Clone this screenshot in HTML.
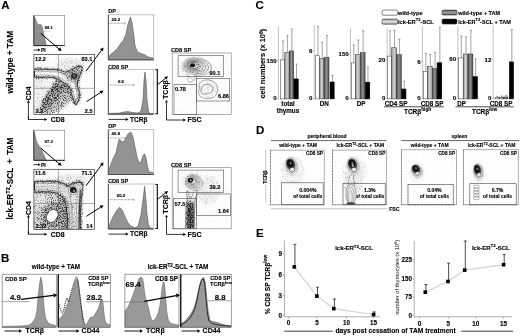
<!DOCTYPE html>
<html><head><meta charset="utf-8"><style>
html,body{margin:0;padding:0;background:#fff;}
svg{display:block;will-change:transform;}
text{font-family:"Liberation Sans", sans-serif;stroke:#000;stroke-width:0.12px;}
</style></head><body>
<svg width="520" height="336" viewBox="0 0 520 336">
<defs>

<filter id="stip" x="0" y="0" width="1" height="1" color-interpolation-filters="sRGB">
<feGaussianBlur in="SourceGraphic" stdDeviation="1.0" result="d"/>
<feTurbulence type="fractalNoise" baseFrequency="0.8" numOctaves="2" seed="7" result="n0"/>
<feColorMatrix in="n0" type="matrix" values="3.4 0 0 0 -1.2  3.4 0 0 0 -1.2  3.4 0 0 0 -1.2  0 0 0 0 1" result="n"/>
<feComposite in="d" in2="n" operator="arithmetic" k1="0" k2="4" k3="-4" k4="1" result="c"/>
<feComposite in="c" in2="d" operator="arithmetic" k1="0" k2="0.42" k3="0.58" k4="0" result="m"/>
<feGaussianBlur in="m" stdDeviation="0.55"/>
</filter>

</defs>
<rect width="520" height="336" fill="#fff"/>
<text x="1.2" y="9.2" font-size="11.5" font-weight="bold" text-anchor="start" fill="#000" >A</text>
<text x="0.9" y="261.7" font-size="11.5" font-weight="bold" text-anchor="start" fill="#000" >B</text>
<text x="255.6" y="9.2" font-size="11.5" font-weight="bold" text-anchor="start" fill="#000" >C</text>
<text x="256" y="133.7" font-size="11.5" font-weight="bold" text-anchor="start" fill="#000" >D</text>
<text x="256" y="236.8" font-size="11.5" font-weight="bold" text-anchor="start" fill="#000" >E</text>
<text x="0" y="0" font-size="8.3" font-weight="bold" stroke="#000" stroke-width="0.2" word-spacing="0" text-anchor="middle" transform="translate(12.6 62.2) rotate(-90)">wild-type + TAM</text>
<path d="M33.80,16.00 C34.00,16.27 34.60,16.83 35.00,17.60 C35.40,18.37 35.82,19.60 36.20,20.60 C36.58,21.60 36.83,22.95 37.30,23.60 C37.77,24.25 38.35,24.33 39.00,24.50 C39.65,24.67 40.65,24.18 41.20,24.60 C41.75,25.02 41.97,25.93 42.30,27.00 C42.63,28.07 42.87,29.50 43.20,31.00 C43.53,32.50 43.93,34.33 44.30,36.00 C44.67,37.67 45.05,39.40 45.40,41.00 C45.75,42.60 46.23,44.83 46.40,45.60 L33.8,45.6 Z" fill="#8e8e8e" stroke="#555" stroke-width="0.4" />
<rect x="33.8" y="15.5" width="30.900000000000006" height="30.1" fill="none" stroke="#777" stroke-width="0.6" />
<line x1="33.8" y1="45.6" x2="64.7" y2="45.6" stroke="#222" stroke-width="1.0" />
<line x1="33.8" y1="15.5" x2="33.8" y2="45.6" stroke="#333" stroke-width="0.8" />
<line x1="36.5" y1="31.2" x2="51" y2="31.2" stroke="#aaa" stroke-width="0.5" />
<text x="44.6" y="28.7" font-size="4.2" font-weight="bold" text-anchor="start" fill="#000" stroke="#000" stroke-width="0.15">98.1</text>
<line x1="40.6" y1="33.3" x2="58.9300779814898" y2="48.83692324145326" stroke="#000" stroke-width="1.0" />
<path d="M61.60,51.10 L57.69,50.31 L60.17,47.37 Z" fill="#000"/>
<line x1="33.5" y1="50.0" x2="38.0" y2="50.0" stroke="#000" stroke-width="0.8" />
<path d="M40.50,50.00 L38.00,51.38 L38.00,48.62 Z" fill="#000"/>
<text x="41" y="51.8" font-size="5" font-weight="bold" text-anchor="start" fill="#000" >PI</text>
<clipPath id="clipA0"><rect x="33.9" y="54.6" width="60.699999999999996" height="59.99999999999999"/></clipPath>
<g clip-path="url(#clipA0)">
<g filter="url(#stip)">
<rect x="33.9" y="54.6" width="60.699999999999996" height="59.99999999999999" fill="#f9f9f9"/>
<ellipse cx="70" cy="64" rx="14" ry="6" fill="#e4e4e4"/>
<rect x="33" y="79" width="14" height="36" fill="#e6e6e6"/>
<path d="M56,79 L66,82 L71,90 L72,100 L58,112 L46,116 L38,114 L40,104 L48,92 Z" fill="#a4a4a4"/>
<path d="M55,82 L64,85 L62,93 L52,105 L45,111 L41,107 L46,94 Z" fill="#686868"/>
<ellipse cx="66" cy="88" rx="3" ry="5" fill="#6a6a6a"/>
<path d="M31.00,69.80 C33.72,68.57 42.68,69.37 47.30,69.40 C51.92,69.43 55.67,69.57 58.70,70.00 C61.73,70.43 63.35,72.10 65.50,72.00 C67.65,71.90 69.85,70.17 71.60,69.40 C73.35,68.63 74.72,67.93 76.00,67.40 C77.28,66.87 78.30,66.23 79.30,66.20 C80.30,66.17 81.75,66.11 82.00,67.20 C82.25,68.29 81.43,70.62 80.80,72.75 C80.17,74.88 78.80,78.09 78.20,80.00 C77.60,81.91 77.02,82.12 77.20,84.20 C77.38,86.28 79.04,89.90 79.30,92.50 C79.56,95.10 79.18,97.98 78.75,99.80 C78.32,101.62 77.23,102.62 76.70,103.40 C76.17,104.18 75.95,104.58 75.60,104.50 C75.25,104.42 75.20,104.38 74.60,102.90 C74.00,101.42 72.87,98.20 72.00,95.60 C71.13,93.00 70.90,89.48 69.40,87.30 C67.90,85.12 64.90,83.88 63.00,82.50 C61.10,81.12 60.17,79.88 58.00,79.00 C55.83,78.12 54.50,77.57 50.00,77.20 C45.50,76.83 34.17,78.03 31.00,76.80 C27.83,75.57 28.28,71.03 31.00,69.80 Z" fill="#f4f4f4" stroke="#666" stroke-width="2.2"/>
<path d="M31.00,72.00 C33.67,71.47 42.50,71.57 47.00,71.60 C51.50,71.63 55.00,71.73 58.00,72.20 C61.00,72.67 62.83,74.43 65.00,74.40 C67.17,74.37 69.17,72.77 71.00,72.00 C72.83,71.23 74.63,70.35 76.00,69.80 C77.37,69.25 78.58,68.67 79.20,68.70 C79.82,68.73 79.80,69.28 79.70,70.00 C79.60,70.72 79.25,71.42 78.60,73.00 C77.95,74.58 76.43,77.67 75.80,79.50 C75.17,81.33 74.63,81.83 74.80,84.00 C74.97,86.17 76.50,90.00 76.80,92.50 C77.10,95.00 76.80,97.48 76.60,99.00 C76.40,100.52 76.00,102.10 75.60,101.60 C75.20,101.10 74.87,98.35 74.20,96.00 C73.53,93.65 72.97,89.83 71.60,87.50 C70.23,85.17 68.02,83.67 66.00,82.00 C63.98,80.33 62.17,78.63 59.50,77.50 C56.83,76.37 54.75,75.65 50.00,75.20 C45.25,74.75 34.17,75.33 31.00,74.80 C27.83,74.27 28.33,72.53 31.00,72.00 Z" fill="#f6f6f6" stroke="none"/>
<rect x="81" y="74" width="16" height="42" fill="#fdfdfd"/>
<path d="M62,72 L70,70.5 L78,68 L80.5,68.5 L79.5,73 L76.5,79 L75.5,83 L70,84 L64,78 Z" fill="#c4c4c4"/>
<ellipse cx="74" cy="75.8" rx="6" ry="5" fill="#999"/>
</g>
<path d="M31.00,69.80 C33.72,68.57 42.68,69.37 47.30,69.40 C51.92,69.43 55.67,69.57 58.70,70.00 C61.73,70.43 63.35,72.10 65.50,72.00 C67.65,71.90 69.85,70.17 71.60,69.40 C73.35,68.63 74.72,67.93 76.00,67.40 C77.28,66.87 78.30,66.23 79.30,66.20 C80.30,66.17 81.75,66.11 82.00,67.20 C82.25,68.29 81.43,70.62 80.80,72.75 C80.17,74.88 78.80,78.09 78.20,80.00 C77.60,81.91 77.02,82.12 77.20,84.20 C77.38,86.28 79.04,89.90 79.30,92.50 C79.56,95.10 79.18,97.98 78.75,99.80 C78.32,101.62 77.23,102.62 76.70,103.40 C76.17,104.18 75.95,104.58 75.60,104.50 C75.25,104.42 75.20,104.38 74.60,102.90 C74.00,101.42 72.87,98.20 72.00,95.60 C71.13,93.00 70.90,89.48 69.40,87.30 C67.90,85.12 64.90,83.88 63.00,82.50 C61.10,81.12 60.17,79.88 58.00,79.00 C55.83,78.12 54.50,77.57 50.00,77.20 C45.50,76.83 34.17,78.03 31.00,76.80 C27.83,75.57 28.28,71.03 31.00,69.80 Z" fill="none" stroke="#222" stroke-width="0.8"/>
<path d="M31.00,72.00 C33.67,71.47 42.50,71.57 47.00,71.60 C51.50,71.63 55.00,71.73 58.00,72.20 C61.00,72.67 62.83,74.43 65.00,74.40 C67.17,74.37 69.17,72.77 71.00,72.00 C72.83,71.23 74.63,70.35 76.00,69.80 C77.37,69.25 78.58,68.67 79.20,68.70 C79.82,68.73 79.80,69.28 79.70,70.00 C79.60,70.72 79.25,71.42 78.60,73.00 C77.95,74.58 76.43,77.67 75.80,79.50 C75.17,81.33 74.63,81.83 74.80,84.00 C74.97,86.17 76.50,90.00 76.80,92.50 C77.10,95.00 76.80,97.48 76.60,99.00 C76.40,100.52 76.00,102.10 75.60,101.60 C75.20,101.10 74.87,98.35 74.20,96.00 C73.53,93.65 72.97,89.83 71.60,87.50 C70.23,85.17 68.02,83.67 66.00,82.00 C63.98,80.33 62.17,78.63 59.50,77.50 C56.83,76.37 54.75,75.65 50.00,75.20 C45.25,74.75 34.17,75.33 31.00,74.80 C27.83,74.27 28.33,72.53 31.00,72.00 Z" fill="none" stroke="#777" stroke-width="0.45"/>
<path d="M64,73.5 Q70,71.5 76,69.8 Q79.5,69 79,72 Q77.5,77 75.5,80 Q74,83 72,82 Q68,79 64,73.5 Z" fill="none" stroke="#666" stroke-width="0.45"/>
<ellipse cx="74.1" cy="75.8" rx="4.6" ry="3.9" fill="none" stroke="#444" stroke-width="0.5"/>
<ellipse cx="74.1" cy="75.9" rx="3.0" ry="2.5" fill="#333" stroke="#111" stroke-width="0.4"/>
<ellipse cx="74.4" cy="75.9" rx="1.0" ry="0.8" fill="#888"/>
<path d="M33.9,70.8 L33.9,76.5" stroke="#111" stroke-width="2"/>
<circle cx="51.6" cy="97.6" r="0.9" fill="#fff"/><circle cx="50.2" cy="101.2" r="0.8" fill="#fff"/>
</g>
<rect x="33.9" y="54.6" width="60.699999999999996" height="59.99999999999999" fill="none" stroke="#333" stroke-width="0.7" />
<line x1="58.5" y1="54.6" x2="58.5" y2="114.6" stroke="#666" stroke-width="0.5" />
<line x1="33.9" y1="88.30000000000001" x2="94.6" y2="88.30000000000001" stroke="#666" stroke-width="0.5" />
<text x="35.1" y="60.5" font-size="5.6" font-weight="bold" text-anchor="start" fill="#000" >12.2</text>
<text x="92.4" y="60.5" font-size="5.6" font-weight="bold" text-anchor="end" fill="#000" >83.1</text>
<text x="35.4" y="112.89999999999999" font-size="5.6" font-weight="bold" text-anchor="start" fill="#000" >2.2</text>
<text x="92.6" y="113.1" font-size="5.6" font-weight="bold" text-anchor="end" fill="#000" >2.5</text>
<line x1="28.4" y1="116.6" x2="28.4" y2="119.5" stroke="#000" stroke-width="0.8" />
<line x1="28.4" y1="119.5" x2="28.4" y2="102.69999999999999" stroke="#000" stroke-width="0.8" />
<path d="M28.40,100.10 L29.83,102.70 L26.97,102.70 Z" fill="#000"/>
<line x1="28.4" y1="119.5" x2="44.400000000000006" y2="119.5" stroke="#000" stroke-width="0.8" />
<path d="M47.20,119.50 L44.40,121.04 L44.40,117.96 Z" fill="#000"/>
<text x="0" y="0" font-size="6.9" font-weight="bold" text-anchor="middle" transform="translate(30.7 93.4) rotate(-90)">CD4</text>
<text x="50.7" y="121.8" font-size="6.9" font-weight="bold" text-anchor="start" fill="#000" >CD8</text>
<line x1="86" y1="71.1" x2="101.40956848900642" y2="50.40715088619139" stroke="#000" stroke-width="1.0" />
<path d="M103.50,47.60 L102.95,51.56 L99.87,49.26 Z" fill="#000"/>
<line x1="86.5" y1="101.6" x2="100.56150444996747" y2="92.50137947355046" stroke="#000" stroke-width="1.0" />
<path d="M103.50,90.60 L101.61,94.12 L99.52,90.89 Z" fill="#000"/>
<text x="108.2" y="13.4" font-size="5.6" font-weight="bold" text-anchor="start" fill="#000" >DP</text>
<path d="M108.5,59.8 L108.5,58.0 L110.0,55.0 L114.0,51.7 L117.3,48.6 L120.4,44.0 L123.5,40.0 L125.8,34.7 L128.0,24.0 L130.4,17.0 L132.0,22.4 L133.5,33.0 L135.0,45.6 L137.4,51.7 L142.0,54.0 L144.3,54.2 L145.5,55.5 L148.0,56.8 L150.0,57.5 L153.5,58.0 L153.5,59.8 Z" fill="#939393" stroke="#555" stroke-width="0.6" />
<rect x="108.3" y="14.8" width="45.39999999999999" height="45.0" fill="none" stroke="#aaa" stroke-width="0.7" />
<line x1="108.3" y1="14.8" x2="108.3" y2="59.8" stroke="#333" stroke-width="0.8" />
<line x1="108.3" y1="59.8" x2="153.7" y2="59.8" stroke="#333" stroke-width="0.8" />
<line x1="108.3" y1="23.3" x2="125" y2="23.3" stroke="#444" stroke-width="0.6" stroke-dasharray="0.8 0.6"/>
<line x1="125" y1="22.200000000000003" x2="125" y2="24.4" stroke="#444" stroke-width="0.5" />
<text x="111.6" y="20.6" font-size="4.4" font-weight="bold" text-anchor="start" fill="#000" >29.2</text>
<text x="108.0" y="68.7" font-size="5.6" font-weight="bold" text-anchor="start" fill="#000" >CD8 SP</text>
<path d="M108.5,114.2 L108.5,113.5 L120.0,113.0 L124.0,112.0 L128.0,111.5 L132.0,112.5 L138.0,113.0 L141.0,111.0 L143.0,100.0 L144.0,80.0 L145.0,72.0 L146.0,80.0 L147.0,100.0 L148.5,111.0 L150.0,113.5 L153.5,113.8 L153.5,114.2 Z" fill="#939393" stroke="#555" stroke-width="0.6" />
<rect x="108.3" y="69.3" width="45.39999999999999" height="44.900000000000006" fill="none" stroke="#aaa" stroke-width="0.7" />
<line x1="108.3" y1="69.3" x2="108.3" y2="114.2" stroke="#333" stroke-width="0.8" />
<line x1="108.3" y1="114.2" x2="153.7" y2="114.2" stroke="#333" stroke-width="0.8" />
<line x1="108.3" y1="85.0" x2="134" y2="85.0" stroke="#444" stroke-width="0.6" stroke-dasharray="0.8 0.6"/>
<line x1="134" y1="83.89999999999999" x2="134" y2="86.1" stroke="#444" stroke-width="0.5" />
<text x="121" y="82.5" font-size="4.4" font-weight="bold" text-anchor="middle" fill="#000" >8.6</text>
<line x1="108.5" y1="119.4" x2="125.7" y2="119.4" stroke="#000" stroke-width="0.8" />
<path d="M128.50,119.40 L125.70,120.94 L125.70,117.86 Z" fill="#000"/>
<text x="130" y="121.5" font-size="6.6" font-weight="bold" text-anchor="start" fill="#000" >TCR&#946;</text>
<line x1="157.3" y1="69.3" x2="157.3" y2="114.2" stroke="#000" stroke-width="1.1" />
<line x1="155" y1="69.7" x2="157.8" y2="69.7" stroke="#000" stroke-width="0.8" />
<line x1="155" y1="113.8" x2="157.8" y2="113.8" stroke="#000" stroke-width="0.8" />
<line x1="158" y1="84.3" x2="165.423132928838" y2="78.3614936569296" stroke="#000" stroke-width="1.0" />
<path d="M168.00,76.30 L166.56,79.78 L164.29,76.94 Z" fill="#000"/>
<text x="171.0" y="52.4" font-size="5.6" font-weight="bold" text-anchor="start" fill="#000" >CD8 SP</text>
<clipPath id="clipS0"><rect x="172.2" y="53.0" width="59.0" height="61.400000000000006"/></clipPath>
<g clip-path="url(#clipS0)">
<g filter="url(#stip)">
<rect x="172.2" y="53.0" width="59.0" height="61.400000000000006" fill="#fbfbfb"/>
<ellipse cx="196" cy="67" rx="16" ry="10" fill="#e0e0e0"/>
<ellipse cx="208" cy="89" rx="11" ry="9" fill="#ececec"/>
<ellipse cx="193" cy="65.5" rx="7" ry="5" fill="#c8c8c8"/>
</g>
<path d="M183.12,65.15 C183.46,63.36 184.70,60.78 186.50,59.56 C188.30,58.34 191.23,57.91 193.93,57.84 C196.62,57.77 200.11,58.20 202.70,59.13 C205.29,60.06 207.99,61.78 209.45,63.43 C210.91,65.08 211.81,67.30 211.47,69.02 C211.14,70.74 209.45,72.75 207.43,73.75 C205.40,74.75 202.14,75.11 199.32,75.04 C196.51,74.97 193.03,74.11 190.55,73.32 C188.08,72.53 185.71,71.67 184.47,70.31 C183.24,68.95 182.79,66.94 183.12,65.15 Z" fill="none" stroke="#777" stroke-width="0.5"/>
<path d="M184.49,65.09 C184.78,63.57 185.82,61.38 187.34,60.35 C188.86,59.31 191.33,58.95 193.61,58.89 C195.89,58.83 198.84,59.19 201.02,59.98 C203.21,60.77 205.49,62.23 206.72,63.63 C207.96,65.03 208.72,66.92 208.43,68.38 C208.15,69.84 206.72,71.54 205.01,72.39 C203.30,73.24 200.55,73.55 198.17,73.49 C195.80,73.43 192.85,72.70 190.76,72.03 C188.67,71.36 186.68,70.63 185.63,69.47 C184.59,68.32 184.21,66.61 184.49,65.09 Z" fill="none" stroke="#666" stroke-width="0.5"/>
<path d="M185.79,65.03 C186.02,63.76 186.89,61.93 188.14,61.07 C189.39,60.20 191.43,59.90 193.31,59.85 C195.19,59.80 197.62,60.10 199.42,60.76 C201.22,61.42 203.10,62.64 204.12,63.81 C205.14,64.98 205.76,66.56 205.53,67.78 C205.30,69.00 204.12,70.42 202.71,71.13 C201.30,71.84 199.03,72.10 197.07,72.05 C195.11,72.00 192.68,71.39 190.96,70.83 C189.24,70.27 187.59,69.66 186.73,68.69 C185.87,67.73 185.56,66.30 185.79,65.03 Z" fill="none" stroke="#555" stroke-width="0.5"/>
<path d="M186.96,64.98 C187.15,63.94 187.85,62.44 188.86,61.73 C189.87,61.02 191.52,60.77 193.04,60.73 C194.56,60.69 196.52,60.94 197.98,61.48 C199.44,62.02 200.96,63.02 201.78,63.98 C202.60,64.94 203.11,66.23 202.92,67.23 C202.73,68.23 201.78,69.40 200.64,69.98 C199.50,70.57 197.66,70.77 196.08,70.73 C194.50,70.69 192.53,70.19 191.14,69.73 C189.75,69.27 188.42,68.77 187.72,67.98 C187.02,67.19 186.77,66.02 186.96,64.98 Z" fill="none" stroke="#444" stroke-width="0.5"/>
<path d="M188.00,64.94 C188.15,64.11 188.70,62.91 189.50,62.34 C190.30,61.77 191.60,61.57 192.80,61.54 C194.00,61.51 195.55,61.71 196.70,62.14 C197.85,62.57 199.05,63.37 199.70,64.14 C200.35,64.91 200.75,65.94 200.60,66.74 C200.45,67.54 199.70,68.47 198.80,68.94 C197.90,69.41 196.45,69.57 195.20,69.54 C193.95,69.51 192.40,69.11 191.30,68.74 C190.20,68.37 189.15,67.97 188.60,67.34 C188.05,66.71 187.85,65.77 188.00,64.94 Z" fill="none" stroke="#333" stroke-width="0.5"/>
<path d="M188.98,64.89 C189.09,64.25 189.50,63.32 190.10,62.88 C190.70,62.44 191.68,62.29 192.58,62.26 C193.48,62.23 194.64,62.39 195.50,62.73 C196.36,63.06 197.26,63.68 197.75,64.28 C198.24,64.87 198.54,65.67 198.43,66.29 C198.31,66.91 197.75,67.63 197.08,68.00 C196.40,68.36 195.31,68.49 194.38,68.46 C193.44,68.43 192.28,68.12 191.45,67.84 C190.62,67.56 189.84,67.25 189.43,66.75 C189.01,66.26 188.86,65.54 188.98,64.89 Z" fill="none" stroke="#222" stroke-width="0.5"/>
<ellipse cx="192.6" cy="65.2" rx="2.6" ry="2.0" fill="#111"/>
<path d="M186.00,74.50 C186.42,74.83 188.25,75.58 188.50,76.50 C188.75,77.42 187.33,79.05 187.50,80.00 C187.67,80.95 188.58,82.03 189.50,82.20 C190.42,82.37 191.83,81.70 193.00,81.00 C194.17,80.30 195.83,78.92 196.50,78.00 C197.17,77.08 196.92,75.92 197.00,75.50" fill="none" stroke="#666" stroke-width="0.5"/>
<path d="M189.00,75.50 C189.25,75.92 189.92,77.33 190.50,78.00 C191.08,78.67 191.83,79.58 192.50,79.50 C193.17,79.42 194.08,78.25 194.50,77.50 C194.92,76.75 194.92,75.42 195.00,75.00" fill="none" stroke="#777" stroke-width="0.45"/>
<path d="M199.00,84.00 C199.58,82.75 201.33,81.17 203.00,80.50 C204.67,79.83 207.17,79.75 209.00,80.00 C210.83,80.25 212.67,81.00 214.00,82.00 C215.33,83.00 216.42,84.50 217.00,86.00 C217.58,87.50 217.67,89.50 217.50,91.00 C217.33,92.50 216.92,93.83 216.00,95.00 C215.08,96.17 213.67,97.42 212.00,98.00 C210.33,98.58 207.92,98.75 206.00,98.50 C204.08,98.25 201.75,97.58 200.50,96.50 C199.25,95.42 198.67,93.42 198.50,92.00 C198.33,90.58 199.42,89.33 199.50,88.00 C199.58,86.67 198.42,85.25 199.00,84.00 Z" fill="none" stroke="#555" stroke-width="0.5"/>
<path d="M201.50,88.00 C202.00,86.92 202.75,85.58 204.00,85.00 C205.25,84.42 207.58,84.17 209.00,84.50 C210.42,84.83 211.92,85.92 212.50,87.00 C213.08,88.08 213.17,89.92 212.50,91.00 C211.83,92.08 210.08,93.00 208.50,93.50 C206.92,94.00 204.25,94.33 203.00,94.00 C201.75,93.67 201.25,92.50 201.00,91.50 C200.75,90.50 201.00,89.08 201.50,88.00 Z" fill="none" stroke="#444" stroke-width="0.5"/>
</g>
<rect x="172.2" y="53.0" width="59.0" height="61.400000000000006" fill="none" stroke="#777" stroke-width="0.6" />
<rect x="178.1" y="55.7" width="45.599999999999994" height="20.599999999999994" fill="none" stroke="#555" stroke-width="0.6" />
<rect x="174" y="84.4" width="22.69999999999999" height="30.0" fill="none" stroke="#555" stroke-width="0.6" />
<rect x="196.5" y="78.4" width="33.19999999999999" height="22.599999999999994" fill="none" stroke="#555" stroke-width="0.6" />
<text x="209.4" y="75.4" font-size="5.6" font-weight="bold" text-anchor="start" fill="#000" >90.1</text>
<text x="175" y="90.6" font-size="5.6" font-weight="bold" text-anchor="start" fill="#000" >0.78</text>
<text x="218.1" y="98.1" font-size="5.6" font-weight="bold" text-anchor="start" fill="#000" >6.86</text>
<line x1="166.5" y1="120.0" x2="166.5" y2="102.6" stroke="#000" stroke-width="0.8" />
<path d="M166.50,100.00 L167.93,102.60 L165.07,102.60 Z" fill="#000"/>
<line x1="166.5" y1="120.0" x2="183.2" y2="120.0" stroke="#000" stroke-width="0.8" />
<path d="M186.00,120.00 L183.20,121.54 L183.20,118.46 Z" fill="#000"/>
<text x="0" y="0" font-size="7" font-weight="bold" text-anchor="middle" transform="translate(168.2 89.6) rotate(-90)">TCR&#946;</text>
<text x="187.6" y="122.10000000000001" font-size="7.0" font-weight="bold" text-anchor="start" fill="#000" >FSC</text>
<text x="0" y="0" font-size="8.3" font-weight="bold" stroke="#000" stroke-width="0.2" word-spacing="1.8" text-anchor="middle" transform="translate(12.6 178.5) rotate(-90)">lck-ER<tspan font-size="5.6" dy="-2.8">T2</tspan><tspan dy="2.8">-SCL + TAM</tspan></text>
<path d="M33.80,131.00 C33.97,131.42 34.50,132.50 34.80,133.50 C35.10,134.50 35.33,135.83 35.60,137.00 C35.87,138.17 36.07,139.42 36.40,140.50 C36.73,141.58 37.13,142.58 37.60,143.50 C38.07,144.42 38.67,145.17 39.20,146.00 C39.73,146.83 40.27,147.58 40.80,148.50 C41.33,149.42 41.87,150.42 42.40,151.50 C42.93,152.58 43.48,153.83 44.00,155.00 C44.52,156.17 45.08,157.60 45.50,158.50 C45.92,159.40 46.33,160.08 46.50,160.40 L33.8,160.3 Z" fill="#8e8e8e" stroke="#555" stroke-width="0.4" />
<rect x="33.8" y="130.2" width="30.900000000000006" height="30.100000000000023" fill="none" stroke="#777" stroke-width="0.6" />
<line x1="33.8" y1="160.3" x2="64.7" y2="160.3" stroke="#222" stroke-width="1.0" />
<line x1="33.8" y1="130.2" x2="33.8" y2="160.3" stroke="#333" stroke-width="0.8" />
<line x1="36.5" y1="145.89999999999998" x2="51" y2="145.89999999999998" stroke="#aaa" stroke-width="0.5" />
<text x="44.6" y="143.39999999999998" font-size="4.2" font-weight="bold" text-anchor="start" fill="#000" stroke="#000" stroke-width="0.15">97.3</text>
<line x1="40.6" y1="148.0" x2="58.9300779814898" y2="163.53692324145325" stroke="#000" stroke-width="1.0" />
<path d="M61.60,165.80 L57.69,165.01 L60.17,162.07 Z" fill="#000"/>
<line x1="33.5" y1="164.7" x2="38.0" y2="164.7" stroke="#000" stroke-width="0.8" />
<path d="M40.50,164.70 L38.00,166.07 L38.00,163.32 Z" fill="#000"/>
<text x="41" y="166.5" font-size="5" font-weight="bold" text-anchor="start" fill="#000" >PI</text>
<clipPath id="clipA1"><rect x="33.9" y="169.3" width="60.699999999999996" height="60.0"/></clipPath>
<g clip-path="url(#clipA1)">
<g filter="url(#stip)">
<rect x="33.9" y="169.3" width="60.699999999999996" height="60.0" fill="#f9f9f9"/>
<ellipse cx="71" cy="179" rx="15" ry="5" fill="#e2e2e2"/>
<path d="M36,192 L58,194 L66,200 L70,212 L71,232 L30,232 L30,198 Z" fill="#b6b6b6"/>
<rect x="33" y="192" width="14" height="14" fill="#d6d6d6"/>
<ellipse cx="53" cy="215" rx="11" ry="13" transform="rotate(25 53 215)" fill="#7c7c7c"/>
<path d="M58,196 L66,200 L69,214 L70,232 L60,232 L58,214 Z" fill="#7a7a7a"/>
<path d="M31.00,182.30 C33.33,180.62 41.00,181.67 45.00,181.50 C49.00,181.33 52.17,181.05 55.00,181.30 C57.83,181.55 60.00,182.30 62.00,183.00 C64.00,183.70 65.25,185.37 67.00,185.50 C68.75,185.63 70.58,184.38 72.50,183.80 C74.42,183.22 77.02,182.13 78.50,182.00 C79.98,181.87 80.67,182.30 81.40,183.00 C82.13,183.70 82.73,185.03 82.90,186.20 C83.07,187.37 82.62,188.37 82.40,190.00 C82.18,191.63 81.83,193.67 81.60,196.00 C81.37,198.33 81.17,201.00 81.00,204.00 C80.83,207.00 80.73,210.83 80.60,214.00 C80.47,217.17 80.30,220.00 80.20,223.00 C80.10,226.00 81.95,230.50 80.00,232.00 C78.05,233.50 70.57,234.00 68.50,232.00 C66.43,230.00 67.95,224.00 67.60,220.00 C67.25,216.00 66.92,211.33 66.40,208.00 C65.88,204.67 65.40,202.00 64.50,200.00 C63.60,198.00 62.58,197.20 61.00,196.00 C59.42,194.80 57.67,193.50 55.00,192.80 C52.33,192.10 49.00,192.00 45.00,191.80 C41.00,191.60 33.33,193.18 31.00,191.60 C28.67,190.02 28.67,183.98 31.00,182.30 Z" fill="#e4e4e4" stroke="#555" stroke-width="2.0"/>
<path d="M31.00,184.40 C33.33,183.40 41.00,183.75 45.00,183.60 C49.00,183.45 52.17,183.23 55.00,183.50 C57.83,183.77 60.00,184.45 62.00,185.20 C64.00,185.95 65.33,187.73 67.00,188.00 C68.67,188.27 70.17,187.30 72.00,186.80 C73.83,186.30 76.63,185.03 78.00,185.00 C79.37,184.97 79.88,185.77 80.20,186.60 C80.52,187.43 80.07,188.43 79.90,190.00 C79.73,191.57 79.40,193.67 79.20,196.00 C79.00,198.33 78.85,201.00 78.70,204.00 C78.55,207.00 78.42,210.83 78.30,214.00 C78.18,217.17 78.08,220.00 78.00,223.00 C77.92,226.00 79.03,230.50 77.80,232.00 C76.57,233.50 71.93,234.00 70.60,232.00 C69.27,230.00 70.10,224.00 69.80,220.00 C69.50,216.00 69.30,211.33 68.80,208.00 C68.30,204.67 67.85,202.25 66.80,200.00 C65.75,197.75 64.47,196.03 62.50,194.50 C60.53,192.97 57.92,191.58 55.00,190.80 C52.08,190.02 49.00,190.00 45.00,189.80 C41.00,189.60 33.33,190.50 31.00,189.60 C28.67,188.70 28.67,185.40 31.00,184.40 Z" fill="#e2e2e2" stroke="none"/>
<path d="M70.50,192.00 C71.13,191.25 72.83,191.67 74.00,191.50 C75.17,191.33 77.00,189.58 77.50,191.00 C78.00,192.42 77.17,196.50 77.00,200.00 C76.83,203.50 76.63,208.33 76.50,212.00 C76.37,215.67 76.28,218.67 76.20,222.00 C76.12,225.33 76.63,230.33 76.00,232.00 C75.37,233.67 73.07,234.33 72.40,232.00 C71.73,229.67 72.18,222.50 72.00,218.00 C71.82,213.50 71.60,208.67 71.30,205.00 C71.00,201.33 70.33,198.17 70.20,196.00 C70.07,193.83 69.87,192.75 70.50,192.00 Z" fill="#cfcfcf" stroke="none"/>
<rect x="82.5" y="186" width="15" height="46" fill="#fdfdfd"/>
</g>
<path d="M31.00,182.30 C33.33,180.62 41.00,181.67 45.00,181.50 C49.00,181.33 52.17,181.05 55.00,181.30 C57.83,181.55 60.00,182.30 62.00,183.00 C64.00,183.70 65.25,185.37 67.00,185.50 C68.75,185.63 70.58,184.38 72.50,183.80 C74.42,183.22 77.02,182.13 78.50,182.00 C79.98,181.87 80.67,182.30 81.40,183.00 C82.13,183.70 82.73,185.03 82.90,186.20 C83.07,187.37 82.62,188.37 82.40,190.00 C82.18,191.63 81.83,193.67 81.60,196.00 C81.37,198.33 81.17,201.00 81.00,204.00 C80.83,207.00 80.73,210.83 80.60,214.00 C80.47,217.17 80.30,220.00 80.20,223.00 C80.10,226.00 81.95,230.50 80.00,232.00 C78.05,233.50 70.57,234.00 68.50,232.00 C66.43,230.00 67.95,224.00 67.60,220.00 C67.25,216.00 66.92,211.33 66.40,208.00 C65.88,204.67 65.40,202.00 64.50,200.00 C63.60,198.00 62.58,197.20 61.00,196.00 C59.42,194.80 57.67,193.50 55.00,192.80 C52.33,192.10 49.00,192.00 45.00,191.80 C41.00,191.60 33.33,193.18 31.00,191.60 C28.67,190.02 28.67,183.98 31.00,182.30 Z" fill="none" stroke="#222" stroke-width="0.8"/>
<path d="M31.00,184.40 C33.33,183.40 41.00,183.75 45.00,183.60 C49.00,183.45 52.17,183.23 55.00,183.50 C57.83,183.77 60.00,184.45 62.00,185.20 C64.00,185.95 65.33,187.73 67.00,188.00 C68.67,188.27 70.17,187.30 72.00,186.80 C73.83,186.30 76.63,185.03 78.00,185.00 C79.37,184.97 79.88,185.77 80.20,186.60 C80.52,187.43 80.07,188.43 79.90,190.00 C79.73,191.57 79.40,193.67 79.20,196.00 C79.00,198.33 78.85,201.00 78.70,204.00 C78.55,207.00 78.42,210.83 78.30,214.00 C78.18,217.17 78.08,220.00 78.00,223.00 C77.92,226.00 79.03,230.50 77.80,232.00 C76.57,233.50 71.93,234.00 70.60,232.00 C69.27,230.00 70.10,224.00 69.80,220.00 C69.50,216.00 69.30,211.33 68.80,208.00 C68.30,204.67 67.85,202.25 66.80,200.00 C65.75,197.75 64.47,196.03 62.50,194.50 C60.53,192.97 57.92,191.58 55.00,190.80 C52.08,190.02 49.00,190.00 45.00,189.80 C41.00,189.60 33.33,190.50 31.00,189.60 C28.67,188.70 28.67,185.40 31.00,184.40 Z" fill="none" stroke="#666" stroke-width="0.45"/>
<path d="M70.50,192.00 C71.13,191.25 72.83,191.67 74.00,191.50 C75.17,191.33 77.00,189.58 77.50,191.00 C78.00,192.42 77.17,196.50 77.00,200.00 C76.83,203.50 76.63,208.33 76.50,212.00 C76.37,215.67 76.28,218.67 76.20,222.00 C76.12,225.33 76.63,230.33 76.00,232.00 C75.37,233.67 73.07,234.33 72.40,232.00 C71.73,229.67 72.18,222.50 72.00,218.00 C71.82,213.50 71.60,208.67 71.30,205.00 C71.00,201.33 70.33,198.17 70.20,196.00 C70.07,193.83 69.87,192.75 70.50,192.00 Z" fill="none" stroke="#777" stroke-width="0.45"/>
<path d="M31.00,186.60 C34.17,186.52 45.17,185.93 50.00,186.10 C54.83,186.27 57.33,186.78 60.00,187.60 C62.67,188.42 64.33,189.27 66.00,191.00 C67.67,192.73 69.00,194.83 70.00,198.00 C71.00,201.17 71.43,204.33 72.00,210.00 C72.57,215.67 73.17,228.33 73.40,232.00" fill="none" stroke="#888" stroke-width="0.45"/>
<path d="M31.00,188.30 C34.17,188.23 45.33,187.72 50.00,187.90 C54.67,188.08 56.58,188.55 59.00,189.40 C61.42,190.25 63.00,191.23 64.50,193.00 C66.00,194.77 67.08,196.83 68.00,200.00 C68.92,203.17 69.47,206.67 70.00,212.00 C70.53,217.33 71.00,228.67 71.20,232.00" fill="none" stroke="#999" stroke-width="0.45"/>
<path d="M80.4,190 L79.6,204 L79.2,220 L79,229" fill="none" stroke="#333" stroke-width="1.0"/>
<ellipse cx="73.2" cy="190" rx="3.4" ry="3.0" fill="#1a1a1a"/>
<ellipse cx="74" cy="191" rx="1.2" ry="1.0" fill="#999"/>
<ellipse cx="73.2" cy="190.4" rx="5.0" ry="4.2" fill="none" stroke="#666" stroke-width="0.45"/>
<rect x="47.2" y="209.2" width="10" height="13.4" rx="4.6" ry="5" transform="rotate(32 52.2 215.9)" fill="#fff" stroke="#333" stroke-width="0.7"/>
<path d="M33.9,183 L33.9,190.5" stroke="#111" stroke-width="2"/>
</g>
<rect x="33.9" y="169.3" width="60.699999999999996" height="60.0" fill="none" stroke="#333" stroke-width="0.7" />
<line x1="58.5" y1="169.3" x2="58.5" y2="229.3" stroke="#666" stroke-width="0.5" />
<line x1="33.9" y1="203.5" x2="94.6" y2="203.5" stroke="#666" stroke-width="0.5" />
<text x="35.1" y="175.20000000000002" font-size="5.6" font-weight="bold" text-anchor="start" fill="#000" >11.6</text>
<text x="92.4" y="175.20000000000002" font-size="5.6" font-weight="bold" text-anchor="end" fill="#000" >71.1</text>
<text x="35.4" y="227.60000000000002" font-size="5.6" font-weight="bold" text-anchor="start" fill="#000" >3.32</text>
<text x="92.6" y="227.8" font-size="5.6" font-weight="bold" text-anchor="end" fill="#000" >14</text>
<line x1="28.4" y1="231.3" x2="28.4" y2="234.20000000000002" stroke="#000" stroke-width="0.8" />
<line x1="28.4" y1="234.20000000000002" x2="28.4" y2="217.4" stroke="#000" stroke-width="0.8" />
<path d="M28.40,214.80 L29.83,217.40 L26.97,217.40 Z" fill="#000"/>
<line x1="28.4" y1="234.20000000000002" x2="44.400000000000006" y2="234.20000000000002" stroke="#000" stroke-width="0.8" />
<path d="M47.20,234.20 L44.40,235.74 L44.40,232.66 Z" fill="#000"/>
<text x="0" y="0" font-size="6.9" font-weight="bold" text-anchor="middle" transform="translate(30.7 208.10000000000002) rotate(-90)">CD4</text>
<text x="50.7" y="236.5" font-size="6.9" font-weight="bold" text-anchor="start" fill="#000" >CD8</text>
<line x1="86" y1="185.8" x2="101.40956848900642" y2="165.1071508861914" stroke="#000" stroke-width="1.0" />
<path d="M103.50,162.30 L102.95,166.26 L99.87,163.96 Z" fill="#000"/>
<line x1="86.5" y1="216.3" x2="100.56150444996747" y2="207.20137947355047" stroke="#000" stroke-width="1.0" />
<path d="M103.50,205.30 L101.61,208.82 L99.52,205.59 Z" fill="#000"/>
<text x="108.2" y="128.1" font-size="5.6" font-weight="bold" text-anchor="start" fill="#000" >DP</text>
<path d="M108.5,174.5 L108.5,172.7 L110.0,166.7 L113.0,158.7 L116.0,152.7 L119.0,139.2 L121.0,140.7 L123.0,142.2 L125.0,139.7 L128.0,133.7 L131.0,132.2 L133.0,136.7 L135.0,146.7 L137.0,156.7 L139.0,163.2 L141.0,161.7 L143.0,155.7 L144.5,153.7 L146.0,157.7 L147.5,166.7 L149.0,171.7 L153.5,172.7 L153.5,174.5 Z" fill="#939393" stroke="#555" stroke-width="0.6" />
<rect x="108.3" y="129.5" width="45.39999999999999" height="45.0" fill="none" stroke="#aaa" stroke-width="0.7" />
<line x1="108.3" y1="129.5" x2="108.3" y2="174.5" stroke="#333" stroke-width="0.8" />
<line x1="108.3" y1="174.5" x2="153.7" y2="174.5" stroke="#333" stroke-width="0.8" />
<line x1="108.3" y1="138.0" x2="125" y2="138.0" stroke="#444" stroke-width="0.6" stroke-dasharray="0.8 0.6"/>
<line x1="125" y1="136.9" x2="125" y2="139.1" stroke="#444" stroke-width="0.5" />
<text x="111.6" y="135.3" font-size="4.4" font-weight="bold" text-anchor="start" fill="#000" >45.8</text>
<text x="108.0" y="183.4" font-size="5.6" font-weight="bold" text-anchor="start" fill="#000" >CD8 SP</text>
<path d="M108.5,228.9 L108.5,227.7 L110.0,223.7 L113.0,216.7 L116.5,210.7 L119.5,207.2 L122.0,209.7 L125.0,216.7 L128.0,222.7 L131.0,226.2 L135.0,227.7 L138.0,226.2 L141.0,214.7 L143.0,199.7 L144.6,186.2 L146.0,199.7 L147.0,214.7 L148.5,224.7 L150.0,227.7 L153.5,228.5 L153.5,228.9 Z" fill="#939393" stroke="#555" stroke-width="0.6" />
<rect x="108.3" y="184.0" width="45.39999999999999" height="44.900000000000006" fill="none" stroke="#aaa" stroke-width="0.7" />
<line x1="108.3" y1="184.0" x2="108.3" y2="228.9" stroke="#333" stroke-width="0.8" />
<line x1="108.3" y1="228.9" x2="153.7" y2="228.9" stroke="#333" stroke-width="0.8" />
<line x1="108.3" y1="199.7" x2="134" y2="199.7" stroke="#444" stroke-width="0.6" stroke-dasharray="0.8 0.6"/>
<line x1="134" y1="198.6" x2="134" y2="200.8" stroke="#444" stroke-width="0.5" />
<text x="121" y="197.2" font-size="4.4" font-weight="bold" text-anchor="middle" fill="#000" >60.2</text>
<line x1="108.5" y1="234.1" x2="125.7" y2="234.1" stroke="#000" stroke-width="0.8" />
<path d="M128.50,234.10 L125.70,235.64 L125.70,232.56 Z" fill="#000"/>
<text x="130" y="236.20000000000002" font-size="6.6" font-weight="bold" text-anchor="start" fill="#000" >TCR&#946;</text>
<line x1="157.3" y1="184.0" x2="157.3" y2="228.9" stroke="#000" stroke-width="1.1" />
<line x1="155" y1="184.4" x2="157.8" y2="184.4" stroke="#000" stroke-width="0.8" />
<line x1="155" y1="228.5" x2="157.8" y2="228.5" stroke="#000" stroke-width="0.8" />
<line x1="158" y1="199.0" x2="165.423132928838" y2="193.0614936569296" stroke="#000" stroke-width="1.0" />
<path d="M168.00,191.00 L166.56,194.48 L164.29,191.64 Z" fill="#000"/>
<text x="171.0" y="167.1" font-size="5.6" font-weight="bold" text-anchor="start" fill="#000" >CD8 SP</text>
<clipPath id="clipS1"><rect x="172.2" y="167.7" width="59.0" height="61.10000000000002"/></clipPath>
<g clip-path="url(#clipS1)">
<g filter="url(#stip)">
<rect x="172.2" y="167.7" width="59.0" height="61.10000000000002" fill="#fbfbfb"/>
<ellipse cx="193" cy="181" rx="11" ry="9" fill="#e6e6e6"/>
<ellipse cx="208" cy="190" rx="12" ry="15" fill="#e9e9e9"/>
<rect x="186" y="191" width="9" height="40" fill="#dcdcdc"/>
<path d="M186.3,201 L193.8,201 L194,230 L186,230 Z" fill="#7a7a7a"/>
<rect x="188" y="205" width="4.2" height="25" fill="#444"/>
</g>
<path d="M185.42,181.35 C185.63,179.68 186.40,177.28 187.52,176.15 C188.64,175.02 190.46,174.62 192.14,174.55 C193.82,174.48 195.99,174.88 197.60,175.75 C199.21,176.62 200.89,178.22 201.80,179.75 C202.71,181.28 203.27,183.35 203.06,184.95 C202.85,186.55 201.80,188.42 200.54,189.35 C199.28,190.28 197.25,190.62 195.50,190.55 C193.75,190.48 191.58,189.68 190.04,188.95 C188.50,188.22 187.03,187.42 186.26,186.15 C185.49,184.88 185.21,183.02 185.42,181.35 Z" fill="none" stroke="#888" stroke-width="0.5"/>
<path d="M186.26,181.23 C186.44,179.81 187.10,177.77 188.06,176.81 C189.02,175.85 190.58,175.51 192.02,175.45 C193.46,175.39 195.32,175.73 196.70,176.47 C198.08,177.21 199.52,178.57 200.30,179.87 C201.08,181.17 201.56,182.93 201.38,184.29 C201.20,185.65 200.30,187.24 199.22,188.03 C198.14,188.82 196.40,189.11 194.90,189.05 C193.40,188.99 191.54,188.31 190.22,187.69 C188.90,187.07 187.64,186.39 186.98,185.31 C186.32,184.23 186.08,182.65 186.26,181.23 Z" fill="none" stroke="#777" stroke-width="0.5"/>
<path d="M187.10,181.09 C187.25,179.91 187.80,178.20 188.60,177.39 C189.40,176.58 190.70,176.30 191.90,176.25 C193.10,176.20 194.65,176.49 195.80,177.10 C196.95,177.72 198.15,178.86 198.80,179.95 C199.45,181.05 199.85,182.52 199.70,183.66 C199.55,184.80 198.80,186.13 197.90,186.79 C197.00,187.46 195.55,187.70 194.30,187.65 C193.05,187.60 191.50,187.03 190.40,186.51 C189.30,185.99 188.25,185.42 187.70,184.51 C187.15,183.61 186.95,182.28 187.10,181.09 Z" fill="none" stroke="#666" stroke-width="0.5"/>
<path d="M187.87,180.98 C187.99,180.03 188.44,178.65 189.09,177.99 C189.75,177.34 190.81,177.11 191.79,177.07 C192.77,177.04 194.04,177.27 194.97,177.76 C195.91,178.26 196.89,179.18 197.42,180.06 C197.96,180.95 198.28,182.13 198.16,183.05 C198.04,183.97 197.42,185.05 196.69,185.58 C195.95,186.12 194.77,186.31 193.75,186.27 C192.73,186.24 191.46,185.78 190.56,185.35 C189.67,184.93 188.81,184.47 188.36,183.74 C187.91,183.02 187.75,181.94 187.87,180.98 Z" fill="none" stroke="#555" stroke-width="0.5"/>
<path d="M188.64,180.86 C188.73,180.11 189.08,179.03 189.59,178.52 C190.10,178.01 190.92,177.83 191.68,177.80 C192.44,177.77 193.42,177.95 194.15,178.34 C194.88,178.73 195.64,179.45 196.05,180.14 C196.46,180.83 196.72,181.76 196.62,182.48 C196.53,183.20 196.05,184.04 195.48,184.46 C194.91,184.88 193.99,185.03 193.20,185.00 C192.41,184.97 191.43,184.61 190.73,184.28 C190.03,183.95 189.37,183.59 189.02,183.02 C188.67,182.45 188.54,181.61 188.64,180.86 Z" fill="none" stroke="#444" stroke-width="0.5"/>
<path d="M189.27,180.77 C189.34,180.21 189.61,179.40 189.99,179.01 C190.38,178.63 191.01,178.50 191.59,178.47 C192.17,178.45 192.92,178.59 193.47,178.88 C194.03,179.17 194.61,179.71 194.92,180.23 C195.24,180.75 195.43,181.44 195.36,181.98 C195.29,182.52 194.92,183.15 194.49,183.47 C194.05,183.78 193.35,183.90 192.75,183.87 C192.15,183.85 191.40,183.58 190.86,183.33 C190.33,183.09 189.83,182.82 189.56,182.39 C189.29,181.96 189.20,181.33 189.27,180.77 Z" fill="none" stroke="#333" stroke-width="0.5"/>
<ellipse cx="190.6" cy="180.2" rx="2.6" ry="2.3" fill="#111"/>
<ellipse cx="190.8" cy="180.2" rx="0.9" ry="0.8" fill="#ddd"/>
<path d="M187.2,190 Q186,195 187.6,199 Q185.6,202 185.6,229" fill="none" stroke="#444" stroke-width="0.5"/>
<path d="M196,189.5 Q197.8,194 195.6,197 Q194.4,200 194.3,229" fill="none" stroke="#444" stroke-width="0.5"/>
<path d="M188.8,191.5 Q188.6,196 190.2,198.8 Q192.6,196.5 193.6,192" fill="none" stroke="#666" stroke-width="0.45"/>
<line x1="187.2" y1="203" x2="187.2" y2="229" stroke="#111" stroke-width="0.5" />
<line x1="188.9" y1="203" x2="188.9" y2="229" stroke="#111" stroke-width="0.5" />
<line x1="190.6" y1="203" x2="190.6" y2="229" stroke="#111" stroke-width="0.5" />
<line x1="192.3" y1="203" x2="192.3" y2="229" stroke="#111" stroke-width="0.5" />
<line x1="193.6" y1="203" x2="193.6" y2="229" stroke="#111" stroke-width="0.5" />
</g>
<rect x="172.2" y="167.7" width="59.0" height="61.10000000000002" fill="none" stroke="#777" stroke-width="0.6" />
<rect x="178.1" y="170.1" width="45.599999999999994" height="22.30000000000001" fill="none" stroke="#555" stroke-width="0.6" />
<rect x="173.6" y="198.4" width="22.700000000000017" height="30.400000000000006" fill="none" stroke="#555" stroke-width="0.6" />
<rect x="196.3" y="194" width="34.0" height="21.69999999999999" fill="none" stroke="#555" stroke-width="0.6" />
<text x="209.4" y="189.4" font-size="5.6" font-weight="bold" text-anchor="start" fill="#000" >39.2</text>
<text x="174.5" y="205.6" font-size="5.6" font-weight="bold" text-anchor="start" fill="#000" >57.5</text>
<text x="218.1" y="212.7" font-size="5.6" font-weight="bold" text-anchor="start" fill="#000" >1.64</text>
<line x1="166.5" y1="234.4" x2="166.5" y2="217.29999999999998" stroke="#000" stroke-width="0.8" />
<path d="M166.50,214.70 L167.93,217.30 L165.07,217.30 Z" fill="#000"/>
<line x1="166.5" y1="234.4" x2="183.2" y2="234.4" stroke="#000" stroke-width="0.8" />
<path d="M186.00,234.40 L183.20,235.94 L183.20,232.86 Z" fill="#000"/>
<text x="0" y="0" font-size="7" font-weight="bold" text-anchor="middle" transform="translate(168.2 204.29999999999998) rotate(-90)">TCR&#946;</text>
<text x="187.6" y="236.5" font-size="7.0" font-weight="bold" text-anchor="start" fill="#000" >FSC</text>
<text x="56" y="269.3" font-size="6.4" font-weight="bold" text-anchor="middle" fill="#000" >wild-type + TAM</text>
<text x="178" y="269.3" font-size="6.4" font-weight="bold" text-anchor="middle" fill="#000" >lck-ER<tspan font-size="72%" dy="-2.3">T2</tspan><tspan dy="2.3">-SCL + TAM</tspan></text>
<path d="M2.5,327.3 L2.5,326.5 L20.0,326.0 L28.0,325.5 L31.0,324.0 L33.5,321.0 L35.5,318.0 L37.0,310.0 L38.2,296.0 L39.5,284.0 L40.8,277.0 L42.0,282.0 L43.2,296.0 L44.3,310.0 L45.5,318.0 L47.5,322.0 L50.0,324.0 L55.5,325.5 L55.5,327.3 Z" fill="#999" stroke="#666" stroke-width="0.6" />
<rect x="2.2" y="274.2" width="54.099999999999994" height="53.10000000000002" fill="none" stroke="#777" stroke-width="0.7" />
<text x="5.0" y="280.6" font-size="6.0" font-weight="bold" text-anchor="start" fill="#000" >CD8 SP</text>
<text x="10" y="299.5" font-size="7.8" font-weight="bold" text-anchor="start" fill="#000" >4.9</text>
<line x1="2.2" y1="301.7" x2="29.8" y2="301.7" stroke="#666" stroke-width="0.6" />
<path d="M58.5,327.3 L58.5,317.8 L60.0,318.7 L62.0,316.0 L64.0,313.5 L65.5,309.0 L67.0,304.8 L68.5,302.0 L70.0,298.0 L72.0,292.7 L73.5,287.5 L75.0,282.4 L76.5,279.0 L78.0,280.6 L79.5,292.7 L81.0,304.8 L82.5,315.0 L84.0,323.8 L86.0,324.7 L88.0,322.0 L90.0,317.8 L92.0,317.3 L94.0,316.0 L96.0,312.6 L98.0,309.2 L99.5,304.8 L101.0,299.7 L102.0,298.8 L103.0,303.0 L104.0,313.5 L105.0,320.4 L106.5,323.8 L109.5,324.5 L109.5,327.3 Z" fill="#999" stroke="#666" stroke-width="0.6" />
<path d="M58.5,302 L59.5,306.6 L61,310.9 L62.5,313.5 L64,309 L65.5,302 L67,298 L68.5,302 L70,296.2 L71.5,291 L73,285.8 L74.5,280.6 L76,277.2 L77,277.2 L78.5,284 L80,296.2 L81.5,308.3 L83,318.7 L84.5,323.8" fill="none" stroke="#111" stroke-width="0.9" stroke-dasharray="1.2 0.8"/>
<rect x="58" y="274.2" width="52.3" height="53.10000000000002" fill="none" stroke="#777" stroke-width="0.7" />
<line x1="58.3" y1="274.2" x2="58.3" y2="327.3" stroke="#111" stroke-width="1.3" />
<text x="88.2" y="280.3" font-size="5.6" font-weight="bold" text-anchor="start" fill="#000" >CD8 SP</text>
<text x="87.9" y="286.0" font-size="5.6" font-weight="bold" text-anchor="start" fill="#000" >TCR&#946;<tspan font-size="75%" dy="-1.8">low</tspan></text>
<text x="86.6" y="299.5" font-size="7.8" font-weight="bold" text-anchor="start" fill="#000" >28.2</text>
<line x1="86" y1="301.7" x2="110.3" y2="301.7" stroke="#666" stroke-width="0.6" />
<line x1="21" y1="299.3" x2="53.52638370844628" y2="295.44701239817306" stroke="#000" stroke-width="1.2" />
<path d="M57.30,295.00 L53.77,297.52 L53.28,293.37 Z" fill="#000"/>
<line x1="4.5" y1="331" x2="19.0" y2="331.0" stroke="#000" stroke-width="0.9" />
<path d="M22.00,331.00 L19.00,332.65 L19.00,329.35 Z" fill="#000"/>
<text x="25.4" y="333.4" font-size="7.0" font-weight="bold" text-anchor="start" fill="#000" >TCR&#946;</text>
<line x1="58.4" y1="331" x2="76.4" y2="331.0" stroke="#000" stroke-width="0.9" />
<path d="M79.40,331.00 L76.40,332.65 L76.40,329.35 Z" fill="#000"/>
<text x="81.6" y="333.4" font-size="7.0" font-weight="bold" text-anchor="start" fill="#000" >CD44</text>
<path d="M125.0,327.3 L125.0,311.0 L127.0,308.5 L129.0,305.0 L131.0,300.0 L133.0,295.0 L135.0,289.5 L136.5,285.0 L138.0,281.0 L139.5,278.0 L141.0,277.0 L142.5,278.5 L143.5,283.0 L144.5,292.0 L145.5,298.0 L147.0,302.0 L148.5,308.0 L150.0,315.0 L151.5,319.5 L153.0,320.8 L155.0,319.5 L157.0,316.0 L158.5,312.0 L160.0,305.0 L161.5,293.0 L162.5,285.0 L163.5,281.5 L164.5,284.0 L165.5,295.0 L166.5,310.0 L168.0,319.0 L170.0,323.0 L175.0,324.5 L178.8,325.0 L178.8,327.3 Z" fill="#999" stroke="#666" stroke-width="0.6" />
<rect x="124.9" y="274.2" width="54.099999999999994" height="53.10000000000002" fill="none" stroke="#777" stroke-width="0.7" />
<text x="125.5" y="286.5" font-size="7.8" font-weight="bold" text-anchor="start" fill="#000" >69.4</text>
<text x="155" y="281.2" font-size="6.4" font-weight="bold" text-anchor="start" fill="#000" >CD8 SP</text>
<line x1="125" y1="302" x2="146.5" y2="302" stroke="#666" stroke-width="0.6" />
<line x1="144.3" y1="301.3" x2="176.25782247649184" y2="295.6603842688544" stroke="#000" stroke-width="1.2" />
<path d="M180.00,295.00 L176.62,297.72 L175.89,293.60 Z" fill="#000"/>
<path d="M181.0,327.3 L181.0,324.0 L185.0,321.0 L190.0,315.0 L193.0,310.0 L195.0,305.0 L197.0,297.0 L198.5,290.0 L200.0,284.0 L202.0,279.0 L203.7,277.4 L205.0,281.0 L206.0,290.0 L207.0,300.0 L208.0,310.0 L210.0,320.5 L213.0,321.5 L216.0,322.0 L220.0,323.5 L226.0,325.5 L231.0,326.0 L231.0,327.3 Z" fill="#999" stroke="#666" stroke-width="0.6" />
<path d="M181,325 L186,322 L190,318 L193,313 L195,308 L197,300 L198.5,292 L200,285 L201.5,280 L203,278.5 L204.5,282 L205.5,292 L206.5,304 L207.5,314 L209,321 L212,323.5 L218,325 L231,326" fill="none" stroke="#111" stroke-width="0.8" />
<rect x="180.5" y="274.2" width="50.80000000000001" height="53.10000000000002" fill="none" stroke="#777" stroke-width="0.7" />
<line x1="180.8" y1="274.2" x2="180.8" y2="327.3" stroke="#111" stroke-width="1.3" />
<text x="210.3" y="280.3" font-size="5.6" font-weight="bold" text-anchor="start" fill="#000" >CD8 SP</text>
<text x="210.0" y="286.0" font-size="5.6" font-weight="bold" text-anchor="start" fill="#000" >TCR&#946;<tspan font-size="75%" dy="-1.8">low</tspan></text>
<text x="214.7" y="299.5" font-size="7.8" font-weight="bold" text-anchor="start" fill="#000" >8.8</text>
<line x1="208" y1="300.8" x2="231.3" y2="300.8" stroke="#666" stroke-width="0.6" />
<line x1="124.4" y1="331" x2="140.0" y2="331.0" stroke="#000" stroke-width="0.9" />
<path d="M143.00,331.00 L140.00,332.65 L140.00,329.35 Z" fill="#000"/>
<text x="146" y="333.4" font-size="7.0" font-weight="bold" text-anchor="start" fill="#000" >TCR&#946;</text>
<line x1="181.6" y1="331" x2="197.4" y2="331.0" stroke="#000" stroke-width="0.9" />
<path d="M200.40,331.00 L197.40,332.65 L197.40,329.35 Z" fill="#000"/>
<text x="202.6" y="333.4" font-size="7.0" font-weight="bold" text-anchor="start" fill="#000" >CD44</text>
<linearGradient id="gL" x1="0" x2="1" y1="0" y2="0"><stop offset="0" stop-color="#8c8c8c"/><stop offset="0.5" stop-color="#d6d6d6"/><stop offset="1" stop-color="#8c8c8c"/></linearGradient>
<linearGradient id="gD" x1="0" x2="1" y1="0" y2="0"><stop offset="0" stop-color="#4a4a4a"/><stop offset="0.5" stop-color="#929292"/><stop offset="1" stop-color="#4a4a4a"/></linearGradient>
<linearGradient id="gLv" x1="0" x2="0" y1="0" y2="1"><stop offset="0" stop-color="#9a9a9a"/><stop offset="0.5" stop-color="#e2e2e2"/><stop offset="1" stop-color="#9a9a9a"/></linearGradient>
<linearGradient id="gDv" x1="0" x2="0" y1="0" y2="1"><stop offset="0" stop-color="#555"/><stop offset="0.5" stop-color="#a0a0a0"/><stop offset="1" stop-color="#555"/></linearGradient>
<line x1="278.5" y1="26.3" x2="278.5" y2="98.9" stroke="#888" stroke-width="0.5" />
<line x1="277.0" y1="60.6" x2="278.5" y2="60.6" stroke="#888" stroke-width="0.5" />
<line x1="277.0" y1="98.9" x2="278.5" y2="98.9" stroke="#888" stroke-width="0.5" />
<text x="276.7" y="62.7" font-size="6.1" font-weight="bold" text-anchor="end" fill="#000" >150</text>
<text x="276.7" y="100.0" font-size="6.1" font-weight="bold" text-anchor="end" fill="#000" >0</text>
<line x1="282.95" y1="40.9" x2="282.95" y2="59.9" stroke="#666" stroke-width="0.6" />
<line x1="281.84999999999997" y1="40.9" x2="284.05" y2="40.9" stroke="#666" stroke-width="0.6" />
<rect x="280.3" y="59.9" width="4.5" height="39.00000000000001" fill="#fff" stroke="#333" stroke-width="0.5" />
<line x1="287.42499999999995" y1="35.75" x2="287.42499999999995" y2="52.2" stroke="#666" stroke-width="0.6" />
<line x1="286.32499999999993" y1="35.75" x2="288.525" y2="35.75" stroke="#666" stroke-width="0.6" />
<rect x="284.8" y="52.2" width="4.449999999999989" height="46.7" fill="url(#gL)" stroke="#333" stroke-width="0.5" />
<line x1="291.875" y1="29" x2="291.875" y2="50.9" stroke="#666" stroke-width="0.6" />
<line x1="290.775" y1="29" x2="292.975" y2="29" stroke="#666" stroke-width="0.6" />
<rect x="289.25" y="50.9" width="4.449999999999989" height="48.00000000000001" fill="url(#gD)" stroke="#333" stroke-width="0.5" />
<line x1="296.5" y1="64.1" x2="296.5" y2="78.9" stroke="#666" stroke-width="0.6" />
<line x1="295.4" y1="64.1" x2="297.6" y2="64.1" stroke="#666" stroke-width="0.6" />
<rect x="293.9" y="78.9" width="4.400000000000034" height="20.0" fill="#000" stroke="#000" stroke-width="0.5" />
<line x1="314.3" y1="25.4" x2="314.3" y2="98.9" stroke="#888" stroke-width="0.5" />
<line x1="312.8" y1="50.4" x2="314.3" y2="50.4" stroke="#888" stroke-width="0.5" />
<line x1="312.8" y1="98.9" x2="314.3" y2="98.9" stroke="#888" stroke-width="0.5" />
<text x="312.5" y="52.5" font-size="6.1" font-weight="bold" text-anchor="end" fill="#000" >6</text>
<text x="312.5" y="100.0" font-size="6.1" font-weight="bold" text-anchor="end" fill="#000" >0</text>
<line x1="317.95" y1="26.6" x2="317.95" y2="55.75" stroke="#666" stroke-width="0.6" />
<line x1="316.84999999999997" y1="26.6" x2="319.05" y2="26.6" stroke="#666" stroke-width="0.6" />
<rect x="315.5" y="55.75" width="4.100000000000023" height="43.150000000000006" fill="#fff" stroke="#333" stroke-width="0.5" />
<line x1="322.2" y1="42.4" x2="322.2" y2="58.4" stroke="#666" stroke-width="0.6" />
<line x1="321.09999999999997" y1="42.4" x2="323.3" y2="42.4" stroke="#666" stroke-width="0.6" />
<rect x="319.6" y="58.4" width="4.399999999999977" height="40.50000000000001" fill="url(#gL)" stroke="#333" stroke-width="0.5" />
<line x1="326.9" y1="35.6" x2="326.9" y2="57.2" stroke="#666" stroke-width="0.6" />
<line x1="325.79999999999995" y1="35.6" x2="328.0" y2="35.6" stroke="#666" stroke-width="0.6" />
<rect x="324" y="57.2" width="5" height="41.7" fill="url(#gD)" stroke="#333" stroke-width="0.5" />
<line x1="332.5" y1="75.4" x2="332.5" y2="82" stroke="#666" stroke-width="0.6" />
<line x1="331.4" y1="75.4" x2="333.6" y2="75.4" stroke="#666" stroke-width="0.6" />
<rect x="330" y="82" width="4.199999999999989" height="16.900000000000006" fill="#000" stroke="#000" stroke-width="0.5" />
<line x1="350.5" y1="27.6" x2="350.5" y2="98.9" stroke="#888" stroke-width="0.5" />
<line x1="349.0" y1="54" x2="350.5" y2="54" stroke="#888" stroke-width="0.5" />
<line x1="349.0" y1="98.9" x2="350.5" y2="98.9" stroke="#888" stroke-width="0.5" />
<text x="348.7" y="56.1" font-size="6.1" font-weight="bold" text-anchor="end" fill="#000" >150</text>
<text x="348.7" y="100.0" font-size="6.1" font-weight="bold" text-anchor="end" fill="#000" >0</text>
<line x1="353.84999999999997" y1="45" x2="353.84999999999997" y2="62.9" stroke="#666" stroke-width="0.6" />
<line x1="352.74999999999994" y1="45" x2="354.95" y2="45" stroke="#666" stroke-width="0.6" />
<rect x="351.4" y="62.9" width="4.100000000000023" height="36.00000000000001" fill="#fff" stroke="#333" stroke-width="0.5" />
<line x1="358.29999999999995" y1="40" x2="358.29999999999995" y2="54.7" stroke="#666" stroke-width="0.6" />
<line x1="357.19999999999993" y1="40" x2="359.4" y2="40" stroke="#666" stroke-width="0.6" />
<rect x="355.5" y="54.7" width="4.800000000000011" height="44.2" fill="url(#gL)" stroke="#333" stroke-width="0.5" />
<line x1="363.1" y1="30.8" x2="363.1" y2="52.6" stroke="#666" stroke-width="0.6" />
<line x1="362.0" y1="30.8" x2="364.20000000000005" y2="30.8" stroke="#666" stroke-width="0.6" />
<rect x="360.3" y="52.6" width="4.800000000000011" height="46.300000000000004" fill="url(#gD)" stroke="#333" stroke-width="0.5" />
<line x1="367.95" y1="67.2" x2="367.95" y2="82.2" stroke="#666" stroke-width="0.6" />
<line x1="366.84999999999997" y1="67.2" x2="369.05" y2="67.2" stroke="#666" stroke-width="0.6" />
<rect x="365.3" y="82.2" width="4.5" height="16.700000000000003" fill="#000" stroke="#000" stroke-width="0.5" />
<line x1="387.1" y1="28.5" x2="387.1" y2="98.9" stroke="#888" stroke-width="0.5" />
<line x1="385.6" y1="59.7" x2="387.1" y2="59.7" stroke="#888" stroke-width="0.5" />
<line x1="385.6" y1="98.9" x2="387.1" y2="98.9" stroke="#888" stroke-width="0.5" />
<text x="385.3" y="61.800000000000004" font-size="6.1" font-weight="bold" text-anchor="end" fill="#000" >20</text>
<text x="385.3" y="100.0" font-size="6.1" font-weight="bold" text-anchor="end" fill="#000" >0</text>
<line x1="390.0" y1="30.8" x2="390.0" y2="56.1" stroke="#666" stroke-width="0.6" />
<line x1="388.9" y1="30.8" x2="391.1" y2="30.8" stroke="#666" stroke-width="0.6" />
<rect x="387.6" y="56.1" width="4.0" height="42.800000000000004" fill="#fff" stroke="#333" stroke-width="0.5" />
<line x1="394.5" y1="30.25" x2="394.5" y2="47.75" stroke="#666" stroke-width="0.6" />
<line x1="393.4" y1="30.25" x2="395.6" y2="30.25" stroke="#666" stroke-width="0.6" />
<rect x="391.6" y="47.75" width="5.0" height="51.150000000000006" fill="url(#gL)" stroke="#333" stroke-width="0.5" />
<line x1="399.4" y1="39.2" x2="399.4" y2="54.7" stroke="#666" stroke-width="0.6" />
<line x1="398.29999999999995" y1="39.2" x2="400.5" y2="39.2" stroke="#666" stroke-width="0.6" />
<rect x="396.6" y="54.7" width="4.7999999999999545" height="44.2" fill="url(#gD)" stroke="#333" stroke-width="0.5" />
<line x1="404.2" y1="81.1" x2="404.2" y2="89" stroke="#666" stroke-width="0.6" />
<line x1="403.09999999999997" y1="81.1" x2="405.3" y2="81.1" stroke="#666" stroke-width="0.6" />
<rect x="401.6" y="89" width="4.399999999999977" height="9.900000000000006" fill="#000" stroke="#000" stroke-width="0.5" />
<line x1="422.5" y1="26.7" x2="422.5" y2="98.9" stroke="#888" stroke-width="0.5" />
<line x1="421.0" y1="61.5" x2="422.5" y2="61.5" stroke="#888" stroke-width="0.5" />
<line x1="421.0" y1="98.9" x2="422.5" y2="98.9" stroke="#888" stroke-width="0.5" />
<text x="420.7" y="63.6" font-size="6.1" font-weight="bold" text-anchor="end" fill="#000" >6</text>
<text x="420.7" y="100.0" font-size="6.1" font-weight="bold" text-anchor="end" fill="#000" >0</text>
<line x1="425.84999999999997" y1="53.5" x2="425.84999999999997" y2="71.3" stroke="#666" stroke-width="0.6" />
<line x1="424.74999999999994" y1="53.5" x2="426.95" y2="53.5" stroke="#666" stroke-width="0.6" />
<rect x="423.4" y="71.3" width="4.100000000000023" height="27.60000000000001" fill="#fff" stroke="#333" stroke-width="0.5" />
<line x1="430.29999999999995" y1="54.4" x2="430.29999999999995" y2="66.3" stroke="#666" stroke-width="0.6" />
<line x1="429.19999999999993" y1="54.4" x2="431.4" y2="54.4" stroke="#666" stroke-width="0.6" />
<rect x="427.5" y="66.3" width="4.800000000000011" height="32.60000000000001" fill="url(#gL)" stroke="#333" stroke-width="0.5" />
<line x1="435.1" y1="52.2" x2="435.1" y2="68.6" stroke="#666" stroke-width="0.6" />
<line x1="434.0" y1="52.2" x2="436.20000000000005" y2="52.2" stroke="#666" stroke-width="0.6" />
<rect x="432.3" y="68.6" width="4.800000000000011" height="30.30000000000001" fill="url(#gD)" stroke="#333" stroke-width="0.5" />
<line x1="439.85" y1="27.2" x2="439.85" y2="62.75" stroke="#666" stroke-width="0.6" />
<line x1="438.75" y1="27.2" x2="440.95000000000005" y2="27.2" stroke="#666" stroke-width="0.6" />
<rect x="437.1" y="62.75" width="4.699999999999989" height="36.150000000000006" fill="#000" stroke="#000" stroke-width="0.5" />
<line x1="457.9" y1="26.7" x2="457.9" y2="98.9" stroke="#888" stroke-width="0.5" />
<line x1="456.4" y1="58.5" x2="457.9" y2="58.5" stroke="#888" stroke-width="0.5" />
<line x1="456.4" y1="98.9" x2="457.9" y2="98.9" stroke="#888" stroke-width="0.5" />
<text x="456.09999999999997" y="60.6" font-size="6.1" font-weight="bold" text-anchor="end" fill="#000" >60</text>
<text x="456.09999999999997" y="100.0" font-size="6.1" font-weight="bold" text-anchor="end" fill="#000" >0</text>
<line x1="461.29999999999995" y1="36.1" x2="461.29999999999995" y2="57.9" stroke="#666" stroke-width="0.6" />
<line x1="460.19999999999993" y1="36.1" x2="462.4" y2="36.1" stroke="#666" stroke-width="0.6" />
<rect x="458.6" y="57.9" width="4.599999999999966" height="41.00000000000001" fill="#fff" stroke="#333" stroke-width="0.5" />
<line x1="466.0" y1="36.9" x2="466.0" y2="54" stroke="#666" stroke-width="0.6" />
<line x1="464.9" y1="36.9" x2="467.1" y2="36.9" stroke="#666" stroke-width="0.6" />
<rect x="463.2" y="54" width="4.800000000000011" height="44.900000000000006" fill="url(#gL)" stroke="#333" stroke-width="0.5" />
<line x1="470.84999999999997" y1="30.25" x2="470.84999999999997" y2="54" stroke="#666" stroke-width="0.6" />
<line x1="469.74999999999994" y1="30.25" x2="471.95" y2="30.25" stroke="#666" stroke-width="0.6" />
<rect x="468" y="54" width="4.899999999999977" height="44.900000000000006" fill="url(#gD)" stroke="#333" stroke-width="0.5" />
<line x1="475.59999999999997" y1="58.8" x2="475.59999999999997" y2="76.7" stroke="#666" stroke-width="0.6" />
<line x1="474.49999999999994" y1="58.8" x2="476.7" y2="58.8" stroke="#666" stroke-width="0.6" />
<rect x="472.9" y="76.7" width="4.600000000000023" height="22.200000000000003" fill="#000" stroke="#000" stroke-width="0.5" />
<line x1="493.2" y1="25.4" x2="493.2" y2="98.9" stroke="#888" stroke-width="0.5" />
<line x1="491.7" y1="59.7" x2="493.2" y2="59.7" stroke="#888" stroke-width="0.5" />
<line x1="491.7" y1="98.9" x2="493.2" y2="98.9" stroke="#888" stroke-width="0.5" />
<text x="491.4" y="61.800000000000004" font-size="6.1" font-weight="bold" text-anchor="end" fill="#000" >12</text>
<text x="491.4" y="100.0" font-size="6.1" font-weight="bold" text-anchor="end" fill="#000" >0</text>
<line x1="497.4" y1="96.5" x2="497.4" y2="97.6" stroke="#666" stroke-width="0.6" />
<line x1="496.29999999999995" y1="96.5" x2="498.5" y2="96.5" stroke="#666" stroke-width="0.6" />
<rect x="495" y="97.6" width="4" height="1.3000000000000114" fill="#fff" stroke="#333" stroke-width="0.5" />
<line x1="501.65" y1="96" x2="501.65" y2="97.3" stroke="#666" stroke-width="0.6" />
<line x1="500.54999999999995" y1="96" x2="502.75" y2="96" stroke="#666" stroke-width="0.6" />
<rect x="499" y="97.3" width="4.5" height="1.6000000000000085" fill="url(#gL)" stroke="#333" stroke-width="0.5" />
<line x1="506.15" y1="95.5" x2="506.15" y2="97" stroke="#666" stroke-width="0.6" />
<line x1="505.04999999999995" y1="95.5" x2="507.25" y2="95.5" stroke="#666" stroke-width="0.6" />
<rect x="503.5" y="97" width="4.5" height="1.9000000000000057" fill="url(#gD)" stroke="#333" stroke-width="0.5" />
<line x1="511.85" y1="29.7" x2="511.85" y2="61.9" stroke="#666" stroke-width="0.6" />
<line x1="510.75" y1="29.7" x2="512.95" y2="29.7" stroke="#666" stroke-width="0.6" />
<rect x="509.3" y="61.9" width="4.300000000000011" height="37.00000000000001" fill="#000" stroke="#000" stroke-width="0.5" />
<text x="288" y="106.2" font-size="6.3" font-weight="bold" text-anchor="middle" fill="#000" >total</text>
<text x="288" y="113.1" font-size="6.3" font-weight="bold" text-anchor="middle" fill="#000" >thymus</text>
<text x="324.2" y="105.6" font-size="6.3" font-weight="bold" text-anchor="middle" fill="#000" >DN</text>
<text x="361" y="105.6" font-size="6.3" font-weight="bold" text-anchor="middle" fill="#000" >DP</text>
<text x="396" y="105.6" font-size="6.3" font-weight="bold" text-anchor="middle" fill="#000" >CD4 SP</text>
<text x="432" y="105.6" font-size="6.3" font-weight="bold" text-anchor="middle" fill="#000" >CD8 SP</text>
<text x="461.5" y="105.6" font-size="6.3" font-weight="bold" text-anchor="middle" fill="#000" >DP</text>
<text x="501" y="105.6" font-size="6.3" font-weight="bold" text-anchor="middle" fill="#000" >CD8 SP</text>
<line x1="384" y1="106.8" x2="444" y2="106.8" stroke="#000" stroke-width="0.7" />
<line x1="455.5" y1="106.8" x2="513.5" y2="106.8" stroke="#000" stroke-width="0.7" />
<text x="417.5" y="113.8" font-size="6.5" font-weight="bold" text-anchor="middle" fill="#000" >TCR&#946;<tspan font-size="72%" dy="-2.6">high</tspan></text>
<text x="484.5" y="113.8" font-size="6.5" font-weight="bold" text-anchor="middle" fill="#000" >TCR&#946;<tspan font-size="72%" dy="-2.6">low</tspan></text>
<text x="0" y="0" font-size="7.4" font-weight="bold" text-anchor="middle" fill="#000" transform="translate(264.9 63.6) rotate(-90)">cell numbers (x 10<tspan font-size="70%" dy="-2.4">6</tspan><tspan dy="2.4">)</tspan></text>
<rect x="382.1" y="10.1" width="15.5" height="5.1" rx="1.2" fill="#fff" stroke="#333" stroke-width="0.6"/>
<rect x="382.1" y="19.1" width="15.5" height="5.099999999999998" rx="1.2" fill="url(#gLv)" stroke="#333" stroke-width="0.6"/>
<rect x="442.0" y="10.1" width="15.0" height="4.9" rx="1.2" fill="url(#gDv)" stroke="#333" stroke-width="0.6"/>
<rect x="442.0" y="19.1" width="15.0" height="4.899999999999999" rx="1.2" fill="#000" stroke="#333" stroke-width="0.6"/>
<text x="398" y="14.6" font-size="5.7" font-weight="bold" text-anchor="start" fill="#000" >wild-type</text>
<text x="398" y="23.6" font-size="5.7" font-weight="bold" text-anchor="start" fill="#000" >lck-ER<tspan font-size="72%" dy="-2.3">T2</tspan><tspan dy="2.3">-SCL</tspan></text>
<text x="458.2" y="14.6" font-size="5.55" font-weight="bold" text-anchor="start" fill="#000" >wild-type + TAM</text>
<text x="458.2" y="23.6" font-size="5.55" font-weight="bold" text-anchor="start" fill="#000" >lck-ER<tspan font-size="72%" dy="-2.3">T2</tspan><tspan dy="2.3">-SCL + TAM</tspan></text>
<text x="327" y="137.8" font-size="5.0" font-weight="bold" text-anchor="middle" fill="#000" >peripheral blood</text>
<line x1="271" y1="140.6" x2="386.5" y2="140.6" stroke="#000" stroke-width="0.6" />
<text x="459.5" y="137.8" font-size="5.0" font-weight="bold" text-anchor="middle" fill="#000" >spleen</text>
<line x1="401.3" y1="140.6" x2="519.5" y2="140.6" stroke="#000" stroke-width="0.6" />
<text x="298.05" y="147.4" font-size="5.0" font-weight="bold" text-anchor="middle" fill="#000" >wild-type + TAM</text>
<clipPath id="clipD0"><rect x="270.3" y="150.1" width="53.89999999999998" height="54.70000000000002"/></clipPath>
<g clip-path="url(#clipD0)"><g filter="url(#stip)">
<rect x="270.3" y="150.1" width="53.89999999999998" height="54.70000000000002" fill="#fdfdfd"/>
<ellipse cx="292.8" cy="170.6" rx="12" ry="14" fill="#ececec"/>
</g>
<path d="M285.20,164.30 C285.20,162.50 285.68,160.55 286.48,159.35 C287.28,158.15 288.72,157.25 290.00,157.10 C291.28,156.95 292.99,157.47 294.16,158.45 C295.33,159.42 296.40,161.30 297.04,162.95 C297.68,164.60 298.11,166.70 298.00,168.35 C297.89,170.00 297.20,171.65 296.40,172.85 C295.60,174.05 294.32,175.32 293.20,175.55 C292.08,175.77 290.80,175.10 289.68,174.20 C288.56,173.30 287.23,171.80 286.48,170.15 C285.73,168.50 285.20,166.10 285.20,164.30 Z" fill="none" stroke="#aaa" stroke-width="0.5"/>
<path d="M285.93,164.27 C285.93,162.72 286.34,161.05 287.03,160.01 C287.72,158.98 288.96,158.21 290.06,158.08 C291.16,157.95 292.62,158.40 293.63,159.24 C294.64,160.08 295.56,161.69 296.11,163.11 C296.66,164.53 297.03,166.34 296.94,167.75 C296.84,169.17 296.25,170.59 295.56,171.62 C294.87,172.66 293.77,173.75 292.81,173.95 C291.84,174.14 290.74,173.56 289.78,172.79 C288.82,172.01 287.67,170.72 287.03,169.30 C286.39,167.88 285.93,165.82 285.93,164.27 Z" fill="none" stroke="#888" stroke-width="0.5"/>
<path d="M286.66,164.24 C286.66,162.95 287.00,161.54 287.58,160.68 C288.15,159.82 289.19,159.17 290.11,159.06 C291.03,158.95 292.26,159.33 293.11,160.03 C293.95,160.73 294.72,162.08 295.18,163.27 C295.64,164.46 295.95,165.97 295.87,167.16 C295.80,168.35 295.30,169.54 294.72,170.40 C294.14,171.26 293.22,172.18 292.42,172.34 C291.61,172.51 290.69,172.02 289.88,171.37 C289.08,170.72 288.12,169.64 287.58,168.46 C287.04,167.27 286.66,165.54 286.66,164.24 Z" fill="none" stroke="#666" stroke-width="0.5"/>
<path d="M287.38,164.22 C287.38,163.17 287.66,162.04 288.13,161.34 C288.59,160.65 289.43,160.13 290.17,160.04 C290.91,159.95 291.90,160.26 292.58,160.82 C293.26,161.39 293.88,162.48 294.25,163.43 C294.62,164.39 294.87,165.61 294.81,166.56 C294.75,167.52 294.34,168.48 293.88,169.17 C293.42,169.87 292.67,170.61 292.02,170.74 C291.37,170.87 290.63,170.48 289.98,169.96 C289.33,169.44 288.56,168.57 288.13,167.61 C287.69,166.65 287.38,165.26 287.38,164.22 Z" fill="none" stroke="#555" stroke-width="0.5"/>
<path d="M286.12,163.18 C286.12,162.07 286.46,160.86 287.02,160.11 C287.58,159.37 288.58,158.81 289.48,158.72 C290.38,158.63 291.57,158.95 292.39,159.56 C293.21,160.16 293.96,161.32 294.41,162.35 C294.86,163.37 295.15,164.67 295.08,165.69 C295.01,166.72 294.52,167.74 293.96,168.48 C293.40,169.23 292.50,170.02 291.72,170.16 C290.94,170.30 290.04,169.88 289.26,169.32 C288.47,168.76 287.54,167.83 287.02,166.81 C286.49,165.79 286.12,164.30 286.12,163.18 Z" fill="#444"/>
<path d="M287.10,162.89 C287.10,162.08 287.34,161.20 287.74,160.66 C288.14,160.12 288.86,159.72 289.50,159.65 C290.14,159.58 290.99,159.82 291.58,160.26 C292.17,160.70 292.70,161.54 293.02,162.28 C293.34,163.03 293.55,163.97 293.50,164.71 C293.45,165.45 293.10,166.20 292.70,166.74 C292.30,167.28 291.66,167.85 291.10,167.95 C290.54,168.05 289.90,167.75 289.34,167.34 C288.78,166.94 288.11,166.26 287.74,165.52 C287.37,164.78 287.10,163.70 287.10,162.89 Z" fill="#111"/>
<ellipse cx="292.2" cy="169.54999999999998" rx="2.5600000000000005" ry="2.16" fill="#e8e8e8" stroke="#444" stroke-width="0.5"/>
<ellipse cx="290.6" cy="163.2" rx="0.9" ry="1.1" fill="#888"/>
</g>
<rect x="270.3" y="150.1" width="53.89999999999998" height="54.70000000000002" fill="none" stroke="#777" stroke-width="0.6" />
<path d="M270.3,150.1 L270.3,204.8 L324.2,204.8" fill="none" stroke="#333" stroke-width="0.7" stroke-dasharray="0.6 2.4"/>
<text x="323.0" y="154.8" font-size="4.7" font-weight="bold" text-anchor="end" fill="#000" >CD8 SP</text>
<rect x="281.6" y="182.8" width="41.599999999999966" height="22.0" fill="none" stroke="#444" stroke-width="0.6" />
<text x="307.8" y="191.9" font-size="5.1" font-weight="bold" text-anchor="middle" fill="#000" >0.004%</text>
<text x="307.8" y="198.2" font-size="5.0" font-weight="bold" text-anchor="middle" fill="#000" >of total cells</text>
<text x="360.35" y="147.4" font-size="5.0" font-weight="bold" text-anchor="middle" fill="#000" >lck-ER<tspan font-size="72%" dy="-2.3">T2</tspan><tspan dy="2.3">-SCL + TAM</tspan></text>
<clipPath id="clipD1"><rect x="332.6" y="150.1" width="53.89999999999998" height="54.70000000000002"/></clipPath>
<g clip-path="url(#clipD1)"><g filter="url(#stip)">
<rect x="332.6" y="150.1" width="53.89999999999998" height="54.70000000000002" fill="#fdfdfd"/>
<ellipse cx="354.6" cy="170.6" rx="12" ry="14" fill="#ececec"/>
<rect x="344" y="172" width="18" height="20" fill="#e0e0e0"/>
</g>
<path d="M347.00,164.30 C347.00,162.50 347.48,160.55 348.28,159.35 C349.08,158.15 350.52,157.25 351.80,157.10 C353.08,156.95 354.79,157.47 355.96,158.45 C357.13,159.42 358.20,161.30 358.84,162.95 C359.48,164.60 359.91,166.70 359.80,168.35 C359.69,170.00 359.00,171.65 358.20,172.85 C357.40,174.05 356.12,175.32 355.00,175.55 C353.88,175.77 352.60,175.10 351.48,174.20 C350.36,173.30 349.03,171.80 348.28,170.15 C347.53,168.50 347.00,166.10 347.00,164.30 Z" fill="none" stroke="#aaa" stroke-width="0.5"/>
<path d="M347.73,164.27 C347.73,162.72 348.14,161.05 348.83,160.01 C349.52,158.98 350.76,158.21 351.86,158.08 C352.96,157.95 354.42,158.40 355.43,159.24 C356.44,160.08 357.36,161.69 357.91,163.11 C358.46,164.53 358.83,166.34 358.74,167.75 C358.64,169.17 358.05,170.59 357.36,171.62 C356.67,172.66 355.57,173.75 354.61,173.95 C353.64,174.14 352.54,173.56 351.58,172.79 C350.62,172.01 349.47,170.72 348.83,169.30 C348.19,167.88 347.73,165.82 347.73,164.27 Z" fill="none" stroke="#888" stroke-width="0.5"/>
<path d="M348.46,164.24 C348.46,162.95 348.80,161.54 349.38,160.68 C349.95,159.82 350.99,159.17 351.91,159.06 C352.83,158.95 354.06,159.33 354.91,160.03 C355.75,160.73 356.52,162.08 356.98,163.27 C357.44,164.46 357.75,165.97 357.67,167.16 C357.60,168.35 357.10,169.54 356.52,170.40 C355.94,171.26 355.02,172.18 354.22,172.34 C353.41,172.51 352.49,172.02 351.68,171.37 C350.88,170.72 349.92,169.64 349.38,168.46 C348.84,167.27 348.46,165.54 348.46,164.24 Z" fill="none" stroke="#666" stroke-width="0.5"/>
<path d="M349.18,164.22 C349.18,163.17 349.46,162.04 349.93,161.34 C350.39,160.65 351.23,160.13 351.97,160.04 C352.71,159.95 353.70,160.26 354.38,160.82 C355.06,161.39 355.68,162.48 356.05,163.43 C356.42,164.39 356.67,165.61 356.61,166.56 C356.55,167.52 356.14,168.48 355.68,169.17 C355.22,169.87 354.47,170.61 353.82,170.74 C353.17,170.87 352.43,170.48 351.78,169.96 C351.13,169.44 350.36,168.57 349.93,167.61 C349.49,166.65 349.18,165.26 349.18,164.22 Z" fill="none" stroke="#555" stroke-width="0.5"/>
<path d="M347.92,163.18 C347.92,162.07 348.26,160.86 348.82,160.11 C349.38,159.37 350.38,158.81 351.28,158.72 C352.18,158.63 353.37,158.95 354.19,159.56 C355.01,160.16 355.76,161.32 356.21,162.35 C356.66,163.37 356.95,164.67 356.88,165.69 C356.81,166.72 356.32,167.74 355.76,168.48 C355.20,169.23 354.30,170.02 353.52,170.16 C352.74,170.30 351.84,169.88 351.06,169.32 C350.27,168.76 349.34,167.83 348.82,166.81 C348.29,165.79 347.92,164.30 347.92,163.18 Z" fill="#444"/>
<path d="M348.90,162.89 C348.90,162.08 349.14,161.20 349.54,160.66 C349.94,160.12 350.66,159.72 351.30,159.65 C351.94,159.58 352.79,159.82 353.38,160.26 C353.97,160.70 354.50,161.54 354.82,162.28 C355.14,163.03 355.35,163.97 355.30,164.71 C355.25,165.45 354.90,166.20 354.50,166.74 C354.10,167.28 353.46,167.85 352.90,167.95 C352.34,168.05 351.70,167.75 351.14,167.34 C350.58,166.94 349.91,166.26 349.54,165.52 C349.17,164.78 348.90,163.70 348.90,162.89 Z" fill="#111"/>
<ellipse cx="354.0" cy="169.54999999999998" rx="2.5600000000000005" ry="2.16" fill="#e8e8e8" stroke="#444" stroke-width="0.5"/>
<ellipse cx="352.40000000000003" cy="163.2" rx="0.9" ry="1.1" fill="#888"/>
<ellipse cx="352.8" cy="165.6" rx="1.1" ry="1.4" fill="#bbb"/>
</g>
<rect x="332.6" y="150.1" width="53.89999999999998" height="54.70000000000002" fill="none" stroke="#777" stroke-width="0.6" />
<path d="M332.6,150.1 L332.6,204.8 L386.5,204.8" fill="none" stroke="#333" stroke-width="0.7" stroke-dasharray="0.6 2.4"/>
<text x="385.3" y="154.8" font-size="4.7" font-weight="bold" text-anchor="end" fill="#000" >CD8 SP</text>
<rect x="343" y="183.4" width="42.19999999999999" height="21.400000000000006" fill="none" stroke="#444" stroke-width="0.6" />
<text x="369.8" y="191.9" font-size="5.1" font-weight="bold" text-anchor="middle" fill="#000" >1.3%</text>
<text x="369.8" y="198.2" font-size="5.0" font-weight="bold" text-anchor="middle" fill="#000" >of total cells</text>
<text x="429.65000000000003" y="147.4" font-size="5.0" font-weight="bold" text-anchor="middle" fill="#000" >wild-type + TAM</text>
<clipPath id="clipD2"><rect x="401.4" y="149.8" width="54.900000000000034" height="55.0"/></clipPath>
<g clip-path="url(#clipD2)"><g filter="url(#stip)">
<rect x="401.4" y="149.8" width="54.900000000000034" height="55.0" fill="#fdfdfd"/>
<ellipse cx="417.2" cy="172.6" rx="8" ry="10" fill="#f4f4f4"/>
</g>
<path d="M411.00,169.70 C411.00,168.30 411.45,166.78 412.20,165.85 C412.95,164.92 414.30,164.22 415.50,164.10 C416.70,163.98 418.30,164.39 419.40,165.15 C420.50,165.91 421.50,167.37 422.10,168.65 C422.70,169.93 423.10,171.57 423.00,172.85 C422.90,174.13 422.25,175.42 421.50,176.35 C420.75,177.28 419.55,178.27 418.50,178.45 C417.45,178.62 416.25,178.10 415.20,177.40 C414.15,176.70 412.90,175.53 412.20,174.25 C411.50,172.97 411.00,171.10 411.00,169.70 Z" fill="none" stroke="#aaa" stroke-width="0.5"/>
<path d="M411.67,169.62 C411.67,168.41 412.06,167.11 412.70,166.31 C413.35,165.50 414.51,164.90 415.54,164.80 C416.57,164.70 417.95,165.05 418.90,165.70 C419.84,166.36 420.70,167.61 421.22,168.71 C421.73,169.82 422.08,171.22 421.99,172.32 C421.91,173.43 421.35,174.53 420.70,175.33 C420.06,176.14 419.03,176.99 418.12,177.14 C417.22,177.29 416.19,176.84 415.28,176.24 C414.38,175.64 413.31,174.63 412.70,173.53 C412.10,172.43 411.67,170.82 411.67,169.62 Z" fill="none" stroke="#888" stroke-width="0.5"/>
<path d="M412.34,169.53 C412.34,168.52 412.67,167.43 413.21,166.76 C413.75,166.09 414.72,165.58 415.58,165.50 C416.45,165.42 417.60,165.71 418.39,166.26 C419.18,166.80 419.90,167.85 420.34,168.78 C420.77,169.70 421.06,170.88 420.98,171.80 C420.91,172.72 420.44,173.65 419.90,174.32 C419.36,174.99 418.50,175.71 417.74,175.83 C416.99,175.96 416.12,175.58 415.37,175.08 C414.61,174.57 413.71,173.73 413.21,172.81 C412.70,171.88 412.34,170.54 412.34,169.53 Z" fill="none" stroke="#666" stroke-width="0.5"/>
<path d="M413.02,169.45 C413.02,168.64 413.28,167.76 413.71,167.22 C414.15,166.67 414.93,166.27 415.63,166.20 C416.32,166.13 417.25,166.37 417.89,166.81 C418.53,167.25 419.11,168.09 419.45,168.84 C419.80,169.58 420.03,170.53 419.98,171.27 C419.92,172.02 419.54,172.76 419.11,173.30 C418.67,173.85 417.97,174.42 417.37,174.52 C416.76,174.62 416.06,174.32 415.45,173.91 C414.84,173.51 414.12,172.83 413.71,172.09 C413.31,171.34 413.02,170.26 413.02,169.45 Z" fill="none" stroke="#555" stroke-width="0.5"/>
<path d="M411.80,168.43 C411.80,167.56 412.12,166.62 412.64,166.04 C413.16,165.47 414.11,165.03 414.95,164.96 C415.79,164.89 416.91,165.14 417.68,165.61 C418.45,166.08 419.15,166.99 419.57,167.78 C419.99,168.58 420.27,169.59 420.20,170.38 C420.13,171.18 419.67,171.98 419.15,172.55 C418.62,173.13 417.79,173.75 417.05,173.86 C416.31,173.97 415.48,173.64 414.74,173.21 C414.00,172.77 413.13,172.05 412.64,171.25 C412.15,170.46 411.80,169.30 411.80,168.43 Z" fill="#444"/>
<path d="M412.70,168.07 C412.70,167.44 412.93,166.76 413.30,166.34 C413.68,165.92 414.35,165.60 414.95,165.55 C415.55,165.50 416.35,165.68 416.90,166.02 C417.45,166.36 417.95,167.02 418.25,167.60 C418.55,168.18 418.75,168.91 418.70,169.49 C418.65,170.06 418.32,170.64 417.95,171.06 C417.57,171.48 416.97,171.93 416.45,172.01 C415.93,172.09 415.32,171.85 414.80,171.53 C414.28,171.22 413.65,170.69 413.30,170.12 C412.95,169.54 412.70,168.70 412.70,168.07 Z" fill="#111"/>
<ellipse cx="417.59999999999997" cy="173.45" rx="2.4000000000000004" ry="1.68" fill="#e8e8e8" stroke="#444" stroke-width="0.5"/>
<ellipse cx="416.0" cy="168.2" rx="0.9" ry="1.1" fill="#888"/>
</g>
<rect x="401.4" y="149.8" width="54.900000000000034" height="55.0" fill="none" stroke="#777" stroke-width="0.6" />
<path d="M401.4,149.8 L401.4,204.8 L456.3,204.8" fill="none" stroke="#333" stroke-width="0.7" stroke-dasharray="0.6 2.4"/>
<text x="455.1" y="154.8" font-size="4.7" font-weight="bold" text-anchor="end" fill="#000" >CD8 SP</text>
<rect x="408" y="184.6" width="45.19999999999999" height="20.200000000000017" fill="none" stroke="#444" stroke-width="0.6" />
<text x="434.4" y="191.9" font-size="5.1" font-weight="bold" text-anchor="middle" fill="#000" >0.04%</text>
<text x="434.4" y="198.2" font-size="5.0" font-weight="bold" text-anchor="middle" fill="#000" >of total cells</text>
<text x="491.65000000000003" y="147.4" font-size="5.0" font-weight="bold" text-anchor="middle" fill="#000" >lck-ER<tspan font-size="72%" dy="-2.3">T2</tspan><tspan dy="2.3">-SCL + TAM</tspan></text>
<clipPath id="clipD3"><rect x="463.5" y="149.8" width="54.700000000000045" height="55.0"/></clipPath>
<g clip-path="url(#clipD3)"><g filter="url(#stip)">
<rect x="463.5" y="149.8" width="54.700000000000045" height="55.0" fill="#fdfdfd"/>
<ellipse cx="478.6" cy="173.2" rx="8" ry="10" fill="#f4f4f4"/>
</g>
<path d="M473.20,169.98 C473.20,168.26 473.59,166.40 474.24,165.25 C474.89,164.10 476.06,163.24 477.10,163.10 C478.14,162.96 479.53,163.46 480.48,164.39 C481.43,165.32 482.30,167.11 482.82,168.69 C483.34,170.27 483.69,172.27 483.60,173.85 C483.51,175.43 482.95,177.00 482.30,178.15 C481.65,179.30 480.61,180.51 479.70,180.73 C478.79,180.94 477.75,180.30 476.84,179.44 C475.93,178.58 474.85,177.15 474.24,175.57 C473.63,173.99 473.20,171.70 473.20,169.98 Z" fill="none" stroke="#aaa" stroke-width="0.5"/>
<path d="M473.76,169.94 C473.76,168.46 474.10,166.86 474.65,165.87 C475.21,164.89 476.22,164.15 477.11,164.02 C478.01,163.90 479.20,164.33 480.02,165.13 C480.84,165.93 481.59,167.48 482.03,168.83 C482.48,170.19 482.78,171.91 482.70,173.27 C482.63,174.62 482.14,175.98 481.59,176.97 C481.03,177.95 480.13,179.00 479.35,179.19 C478.57,179.37 477.67,178.82 476.89,178.08 C476.11,177.34 475.18,176.10 474.65,174.75 C474.13,173.39 473.76,171.42 473.76,169.94 Z" fill="none" stroke="#888" stroke-width="0.5"/>
<path d="M474.32,169.90 C474.32,168.66 474.60,167.32 475.07,166.50 C475.54,165.67 476.38,165.05 477.13,164.95 C477.88,164.84 478.88,165.21 479.56,165.88 C480.25,166.55 480.87,167.84 481.25,168.97 C481.62,170.11 481.87,171.55 481.81,172.69 C481.75,173.82 481.34,174.96 480.87,175.78 C480.40,176.61 479.66,177.49 479.00,177.64 C478.34,177.80 477.60,177.33 476.94,176.71 C476.29,176.09 475.51,175.06 475.07,173.93 C474.63,172.79 474.32,171.14 474.32,169.90 Z" fill="none" stroke="#666" stroke-width="0.5"/>
<path d="M474.88,169.86 C474.88,168.86 475.11,167.78 475.48,167.12 C475.86,166.45 476.54,165.96 477.14,165.87 C477.75,165.79 478.55,166.08 479.10,166.62 C479.66,167.16 480.16,168.20 480.46,169.11 C480.76,170.03 480.96,171.19 480.91,172.11 C480.86,173.02 480.54,173.94 480.16,174.60 C479.78,175.27 479.18,175.97 478.65,176.10 C478.12,176.22 477.52,175.85 476.99,175.35 C476.46,174.85 475.84,174.02 475.48,173.10 C475.13,172.19 474.88,170.86 474.88,169.86 Z" fill="none" stroke="#555" stroke-width="0.5"/>
<path d="M473.76,168.83 C473.76,167.77 474.03,166.61 474.49,165.90 C474.94,165.19 475.76,164.66 476.49,164.57 C477.22,164.48 478.19,164.79 478.86,165.37 C479.52,165.95 480.13,167.06 480.49,168.03 C480.86,169.01 481.10,170.26 481.04,171.23 C480.98,172.21 480.59,173.19 480.13,173.90 C479.68,174.61 478.95,175.37 478.31,175.50 C477.67,175.63 476.95,175.23 476.31,174.70 C475.67,174.17 474.91,173.28 474.49,172.30 C474.06,171.32 473.76,169.90 473.76,168.83 Z" fill="#444"/>
<path d="M474.50,168.53 C474.50,167.75 474.70,166.91 475.02,166.40 C475.35,165.88 475.93,165.49 476.45,165.43 C476.97,165.37 477.66,165.59 478.14,166.01 C478.62,166.43 479.05,167.24 479.31,167.95 C479.57,168.65 479.74,169.56 479.70,170.27 C479.66,170.98 479.38,171.69 479.05,172.20 C478.73,172.72 478.20,173.27 477.75,173.36 C477.30,173.46 476.78,173.17 476.32,172.78 C475.87,172.40 475.32,171.75 475.02,171.04 C474.72,170.33 474.50,169.30 474.50,168.53 Z" fill="#111"/>
<ellipse cx="479.0" cy="174.92999999999998" rx="2.08" ry="2.064" fill="#e8e8e8" stroke="#444" stroke-width="0.5"/>
<ellipse cx="477.40000000000003" cy="168.79999999999998" rx="0.9" ry="1.1" fill="#888"/>
</g>
<rect x="463.5" y="149.8" width="54.700000000000045" height="55.0" fill="none" stroke="#777" stroke-width="0.6" />
<path d="M463.5,149.8 L463.5,204.8 L518.2,204.8" fill="none" stroke="#333" stroke-width="0.7" stroke-dasharray="0.6 2.4"/>
<text x="517.0" y="154.8" font-size="4.7" font-weight="bold" text-anchor="end" fill="#000" >CD8 SP</text>
<rect x="469.8" y="183.7" width="46.400000000000034" height="21.100000000000023" fill="none" stroke="#444" stroke-width="0.6" />
<text x="497.5" y="191.9" font-size="5.1" font-weight="bold" text-anchor="middle" fill="#000" >0.7%</text>
<text x="497.5" y="198.2" font-size="5.0" font-weight="bold" text-anchor="middle" fill="#000" >of total cells</text>
<path d="M349.4,175 L348.4,186 M353.4,175 L354.4,186" fill="none" stroke="#666" stroke-width="0.5"/>
<ellipse cx="351" cy="194.5" rx="5.2" ry="10" fill="#eee" stroke="#555" stroke-width="0.5"/>
<ellipse cx="350.6" cy="195.5" rx="3.4" ry="8.4" fill="none" stroke="#666" stroke-width="0.5"/>
<ellipse cx="350.4" cy="196.5" rx="1.8" ry="6.4" fill="none" stroke="#777" stroke-width="0.45"/>
<ellipse cx="351" cy="203.6" rx="4.6" ry="1.4" fill="#444"/>
<ellipse cx="476.4" cy="186.8" rx="2.9" ry="1.8" fill="none" stroke="#666" stroke-width="0.5"/>
<ellipse cx="476.4" cy="189.6" rx="2.9" ry="1.8" fill="none" stroke="#666" stroke-width="0.5"/>
<ellipse cx="476.4" cy="192.4" rx="2.9" ry="1.8" fill="none" stroke="#666" stroke-width="0.5"/>
<ellipse cx="476.4" cy="195.2" rx="2.9" ry="1.8" fill="none" stroke="#666" stroke-width="0.5"/>
<ellipse cx="476.4" cy="198" rx="2.9" ry="1.8" fill="none" stroke="#666" stroke-width="0.5"/>
<line x1="265.8" y1="150.2" x2="265.8" y2="169.5" stroke="#888" stroke-width="0.5" />
<line x1="265.8" y1="184.5" x2="265.8" y2="202.3" stroke="#888" stroke-width="0.5" />
<text x="0" y="0" font-size="5.0" font-weight="bold" text-anchor="middle" fill="#000" transform="translate(267.4 177) rotate(-90)">TCR&#946;</text>
<line x1="270.8" y1="208.8" x2="387.7" y2="208.8" stroke="#999" stroke-width="0.6" />
<text x="389.2" y="211" font-size="5.2" font-weight="bold" text-anchor="start" fill="#000" >FSC</text>
<line x1="284.4" y1="240.5" x2="284.4" y2="316.8" stroke="#777" stroke-width="0.6" />
<line x1="284.4" y1="316.8" x2="380" y2="316.8" stroke="#777" stroke-width="0.6" />
<line x1="282.9" y1="253.8" x2="284.4" y2="253.8" stroke="#777" stroke-width="0.6" />
<text x="282.09999999999997" y="256.0" font-size="6.3" font-weight="bold" text-anchor="end" fill="#000" >9</text>
<line x1="282.9" y1="274.7" x2="284.4" y2="274.7" stroke="#777" stroke-width="0.6" />
<text x="282.09999999999997" y="276.9" font-size="6.3" font-weight="bold" text-anchor="end" fill="#000" >6</text>
<line x1="282.9" y1="295.5" x2="284.4" y2="295.5" stroke="#777" stroke-width="0.6" />
<text x="282.09999999999997" y="297.7" font-size="6.3" font-weight="bold" text-anchor="end" fill="#000" >3</text>
<line x1="282.9" y1="315.7" x2="284.4" y2="315.7" stroke="#777" stroke-width="0.6" />
<text x="282.09999999999997" y="317.9" font-size="6.3" font-weight="bold" text-anchor="end" fill="#000" >0</text>
<path d="M294.3,266.9 L316.9,296.1 L333.8,308.6 L373.6,314.6" fill="none" stroke="#d6d6d6" stroke-width="1.4" />
<line x1="294.90000000000003" y1="244.3" x2="294.90000000000003" y2="266.9" stroke="#222" stroke-width="0.8" />
<line x1="293.40000000000003" y1="244.3" x2="296.40000000000003" y2="244.3" stroke="#222" stroke-width="0.8" />
<rect x="292.5" y="265.09999999999997" width="3.6000000000000227" height="3.6000000000000227" fill="#000" stroke="none" stroke-width="0" />
<line x1="317.5" y1="287.2" x2="317.5" y2="296.1" stroke="#222" stroke-width="0.8" />
<line x1="316.0" y1="287.2" x2="319.0" y2="287.2" stroke="#222" stroke-width="0.8" />
<rect x="315.09999999999997" y="294.3" width="3.6000000000000227" height="3.6000000000000227" fill="#000" stroke="none" stroke-width="0" />
<line x1="334.40000000000003" y1="299" x2="334.40000000000003" y2="308.6" stroke="#222" stroke-width="0.8" />
<line x1="332.90000000000003" y1="299" x2="335.90000000000003" y2="299" stroke="#222" stroke-width="0.8" />
<rect x="332.0" y="306.8" width="3.6000000000000227" height="3.6000000000000227" fill="#000" stroke="none" stroke-width="0" />
<line x1="374.20000000000005" y1="311.9" x2="374.20000000000005" y2="314.6" stroke="#222" stroke-width="0.8" />
<line x1="372.70000000000005" y1="311.9" x2="375.70000000000005" y2="311.9" stroke="#222" stroke-width="0.8" />
<rect x="371.8" y="312.8" width="3.6000000000000227" height="3.6000000000000227" fill="#000" stroke="none" stroke-width="0" />
<line x1="288.6" y1="316.8" x2="288.6" y2="318.5" stroke="#777" stroke-width="0.6" />
<text x="288.6" y="325.3" font-size="6.3" font-weight="bold" text-anchor="middle" fill="#000" >0</text>
<line x1="316.9" y1="316.8" x2="316.9" y2="318.5" stroke="#777" stroke-width="0.6" />
<text x="316.9" y="325.3" font-size="6.3" font-weight="bold" text-anchor="middle" fill="#000" >5</text>
<line x1="346.5" y1="316.8" x2="346.5" y2="318.5" stroke="#777" stroke-width="0.6" />
<text x="346.5" y="325.3" font-size="6.3" font-weight="bold" text-anchor="middle" fill="#000" >10</text>
<line x1="373.6" y1="316.8" x2="373.6" y2="318.5" stroke="#777" stroke-width="0.6" />
<text x="373.6" y="325.3" font-size="6.3" font-weight="bold" text-anchor="middle" fill="#000" >15</text>
<line x1="414.2" y1="241" x2="414.2" y2="316.8" stroke="#777" stroke-width="0.6" />
<line x1="414.2" y1="316.8" x2="512" y2="316.8" stroke="#777" stroke-width="0.6" />
<line x1="412.7" y1="260" x2="414.2" y2="260" stroke="#777" stroke-width="0.6" />
<text x="411.9" y="262.2" font-size="6.3" font-weight="bold" text-anchor="end" fill="#000" >225</text>
<line x1="412.7" y1="279" x2="414.2" y2="279" stroke="#777" stroke-width="0.6" />
<text x="411.9" y="281.2" font-size="6.3" font-weight="bold" text-anchor="end" fill="#000" >150</text>
<line x1="412.7" y1="297" x2="414.2" y2="297" stroke="#777" stroke-width="0.6" />
<text x="411.9" y="299.2" font-size="6.3" font-weight="bold" text-anchor="end" fill="#000" >75</text>
<line x1="412.7" y1="315.3" x2="414.2" y2="315.3" stroke="#777" stroke-width="0.6" />
<text x="411.9" y="317.5" font-size="6.3" font-weight="bold" text-anchor="end" fill="#000" >0</text>
<path d="M425.3,292.2 L448,281.5 L464.7,270.1 L503.6,264.7" fill="none" stroke="#d6d6d6" stroke-width="1.4" />
<line x1="425.90000000000003" y1="284.6" x2="425.90000000000003" y2="292.2" stroke="#222" stroke-width="0.8" />
<line x1="424.40000000000003" y1="284.6" x2="427.40000000000003" y2="284.6" stroke="#222" stroke-width="0.8" />
<rect x="423.5" y="290.4" width="3.6000000000000227" height="3.6000000000000227" fill="#000" stroke="none" stroke-width="0" />
<line x1="448.6" y1="263.2" x2="448.6" y2="281.5" stroke="#222" stroke-width="0.8" />
<line x1="447.1" y1="263.2" x2="450.1" y2="263.2" stroke="#222" stroke-width="0.8" />
<rect x="446.2" y="279.7" width="3.6000000000000227" height="3.6000000000000227" fill="#000" stroke="none" stroke-width="0" />
<line x1="465.3" y1="241" x2="465.3" y2="270.1" stroke="#222" stroke-width="0.8" />
<line x1="463.8" y1="241" x2="466.8" y2="241" stroke="#222" stroke-width="0.8" />
<rect x="462.9" y="268.3" width="3.6000000000000227" height="3.6000000000000227" fill="#000" stroke="none" stroke-width="0" />
<line x1="504.20000000000005" y1="254.6" x2="504.20000000000005" y2="264.7" stroke="#222" stroke-width="0.8" />
<line x1="502.70000000000005" y1="254.6" x2="505.70000000000005" y2="254.6" stroke="#222" stroke-width="0.8" />
<rect x="501.8" y="262.9" width="3.6000000000000227" height="3.6000000000000227" fill="#000" stroke="none" stroke-width="0" />
<line x1="419.6" y1="316.8" x2="419.6" y2="318.5" stroke="#777" stroke-width="0.6" />
<text x="419.6" y="325.5" font-size="6.3" font-weight="bold" text-anchor="middle" fill="#000" >0</text>
<line x1="448.3" y1="316.8" x2="448.3" y2="318.5" stroke="#777" stroke-width="0.6" />
<text x="448.3" y="325.5" font-size="6.3" font-weight="bold" text-anchor="middle" fill="#000" >5</text>
<line x1="475.8" y1="316.8" x2="475.8" y2="318.5" stroke="#777" stroke-width="0.6" />
<text x="475.8" y="325.5" font-size="6.3" font-weight="bold" text-anchor="middle" fill="#000" >10</text>
<line x1="503.6" y1="316.8" x2="503.6" y2="318.5" stroke="#777" stroke-width="0.6" />
<text x="503.6" y="325.5" font-size="6.3" font-weight="bold" text-anchor="middle" fill="#000" >15</text>
<text x="354" y="250" font-size="6.0" font-weight="bold" text-anchor="middle" fill="#000" >lck-ER<tspan font-size="72%" dy="-2.3">T2</tspan><tspan dy="2.3">-SCL</tspan></text>
<text x="490.8" y="249.5" font-size="6.0" font-weight="bold" text-anchor="middle" fill="#000" >lck-ER<tspan font-size="72%" dy="-2.3">T2</tspan><tspan dy="2.3">-SCL</tspan></text>
<text x="0" y="0" font-size="6.7" font-weight="bold" text-anchor="middle" fill="#000" transform="translate(269.6 284.6) rotate(-90)">% CD8 SP TCR&#946;<tspan font-size="70%" dy="-2.4">low</tspan></text>
<text x="0" y="0" font-size="5.75" font-weight="normal" text-anchor="middle" fill="#000" style="stroke-width:0" transform="translate(398.6 277.3) rotate(-90)">number of thymocytes (x 10<tspan font-size="65%" dy="-2">6</tspan><tspan dy="2">)</tspan></text>
<line x1="284.2" y1="331.2" x2="332.6" y2="331.2" stroke="#222" stroke-width="0.9" />
<text x="335.4" y="333.3" font-size="6.7" font-weight="bold" text-anchor="start" fill="#000" >days post cessation of TAM treatment</text>
<line x1="461.2" y1="331.2" x2="513.1" y2="331.2" stroke="#222" stroke-width="0.9" />
</svg>
</body></html>
